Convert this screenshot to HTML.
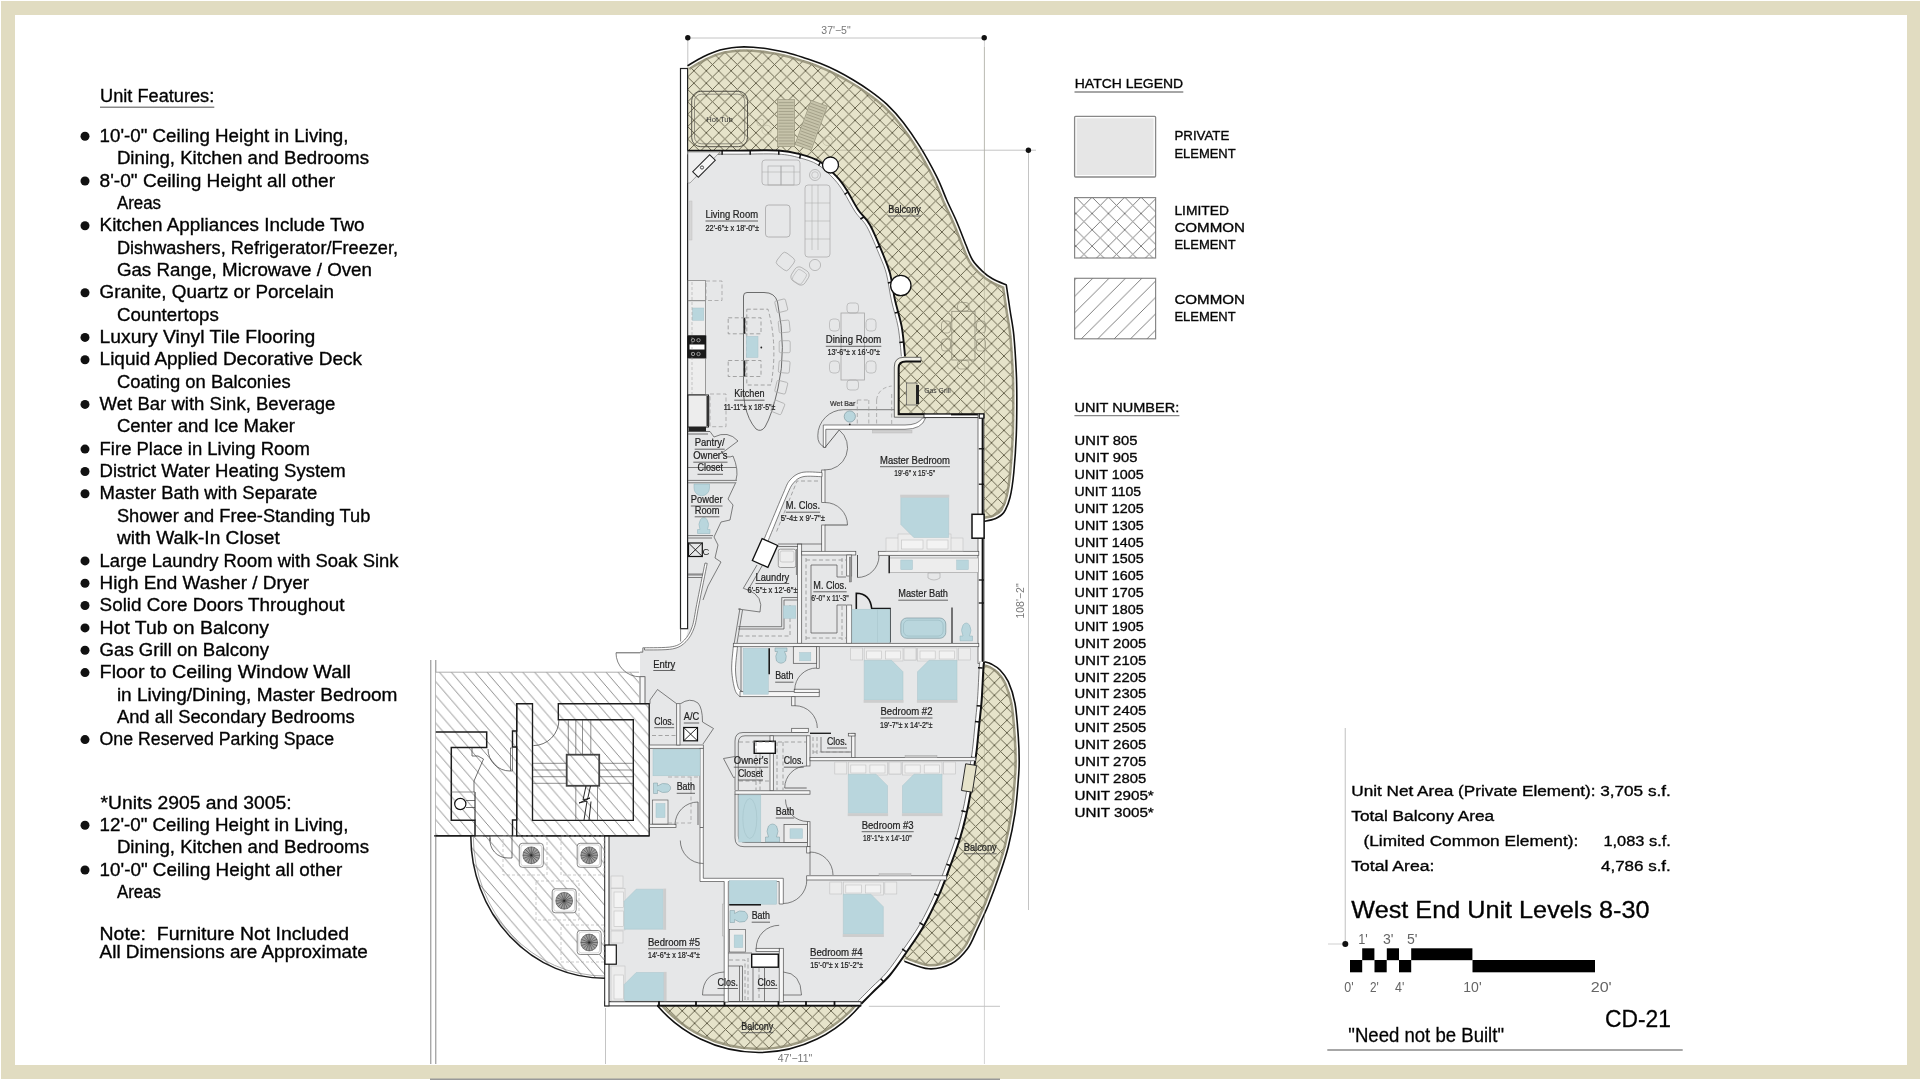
<!DOCTYPE html>
<html lang="en"><head><meta charset="utf-8"><title>West End Unit Levels 8-30 - CD-21</title>
<style>
html,body{margin:0;padding:0;background:#fff;}
body{width:1920px;height:1080px;overflow:hidden;}
svg{display:block;will-change:transform;font-family:'Liberation Sans', sans-serif;}
</style></head><body>
<svg width="1920" height="1080" viewBox="0 0 1920 1080">
<defs>
<pattern id="xh" width="12.4" height="12.4" patternUnits="userSpaceOnUse" patternTransform="translate(11.9 8.8)">
<path d="M0,0L12.4,12.4M12.4,0L0,12.4" stroke="#625e48" stroke-width="0.95" fill="none"/>
</pattern>
<pattern id="xh2" width="12.5" height="12.5" patternUnits="userSpaceOnUse" patternTransform="translate(994.4 682.8)">
<path d="M0,0L12.5,12.5M12.5,0L0,12.5" stroke="#625e48" stroke-width="0.95" fill="none"/>
</pattern>
<pattern id="xh3" width="12.4" height="12.4" patternUnits="userSpaceOnUse" patternTransform="translate(719.4 1010.9)">
<path d="M0,0L12.4,12.4M12.4,0L0,12.4" stroke="#625e48" stroke-width="0.95" fill="none"/>
</pattern>
<pattern id="xhl" width="16.3" height="16.3" patternUnits="userSpaceOnUse" patternTransform="translate(1092.1 197.2)">
<path d="M-1,-1L17.3,17.3M17.3,-1L-1,17.3" stroke="#707070" stroke-width="0.9" fill="none"/>
</pattern>
<pattern id="dh" width="11.9" height="13.8" patternUnits="userSpaceOnUse" patternTransform="translate(439.4 672.2)">
<path d="M-1.19,-1.38L13.09,15.18" stroke="#707070" stroke-width="0.8" fill="none"/>
</pattern>
<pattern id="dhl" width="16.4" height="16.4" patternUnits="userSpaceOnUse" patternTransform="translate(1092.8 261.8)">
<path d="M-1,17.4L17.4,-1" stroke="#707070" stroke-width="0.9" fill="none"/>
</pattern>
</defs>
<rect x="0" y="0" width="1920" height="1080" fill="#fff"/>
<path d="M1,1H1920V1079H1ZM15,15V1065H1907V15Z" fill="#e1dcc1" fill-rule="evenodd"/>
<line x1="430" y1="1079.3" x2="1000" y2="1079.3" stroke="#999" stroke-width="1.4"/>
<line x1="687.8" y1="38.0" x2="984.2" y2="38.0" stroke="#c4c4c4" stroke-width="1.0"/>
<line x1="687.8" y1="38.0" x2="687.8" y2="68.0" stroke="#c4c4c4" stroke-width="1.0"/>
<line x1="984.4" y1="38.0" x2="984.4" y2="1064.0" stroke="#d4d4d4" stroke-width="1.0"/>
<line x1="815.0" y1="150.2" x2="1036.0" y2="150.2" stroke="#c4c4c4" stroke-width="1.0"/>
<line x1="1028.5" y1="150.0" x2="1028.5" y2="910.0" stroke="#c4c4c4" stroke-width="1.0"/>
<line x1="868.8" y1="1006.3" x2="1000.0" y2="1006.3" stroke="#c4c4c4" stroke-width="1.0"/>
<line x1="605.5" y1="1008.0" x2="605.5" y2="1064.0" stroke="#c4c4c4" stroke-width="1.0"/>
<circle cx="687.8" cy="37.8" r="2.7" fill="#111" stroke="none" stroke-width="0"/>
<circle cx="984.2" cy="37.8" r="2.7" fill="#111" stroke="none" stroke-width="0"/>
<circle cx="1028.4" cy="150.2" r="2.7" fill="#111" stroke="none" stroke-width="0"/>
<text x="836.0" y="33.5" font-size="10.5" text-anchor="middle" fill="#777">37'−5"</text>
<text x="795.0" y="1062.3" font-size="10.5" text-anchor="middle" fill="#777">47'−11"</text>
<text transform="translate(1023.5 601) rotate(-90)" font-size="10.5" text-anchor="middle" fill="#777">108'−2"</text>
<line x1="430.8" y1="660.0" x2="430.8" y2="1064.0" stroke="#777" stroke-width="0.9"/>
<line x1="435.8" y1="660.0" x2="435.8" y2="1064.0" stroke="#777" stroke-width="0.9"/>
<clipPath id="cb1"><path d="M687.5,65.8 C690.1,64.3 697.9,59.3 703.3,56.7 C708.7,54.1 714.4,51.6 720.0,50.0 C725.6,48.4 731.2,47.7 736.7,47.2 C742.2,46.7 747.8,46.9 753.3,47.2 C758.8,47.5 764.4,48.3 770.0,49.2 C775.6,50.1 781.2,51.1 786.7,52.5 C792.2,53.9 797.8,55.7 803.3,57.5 C808.8,59.3 814.4,61.1 820.0,63.3 C825.6,65.5 831.2,68.0 836.7,70.8 C842.2,73.6 847.8,76.7 853.3,80.0 C858.8,83.3 864.4,86.8 870.0,90.8 C875.6,94.8 881.2,98.9 886.7,104.2 C892.2,109.5 897.8,115.4 903.3,122.5 C908.8,129.6 914.4,137.7 920.0,146.7 C925.6,155.7 932.2,167.8 936.7,176.7 C941.2,185.6 943.4,192.5 946.7,200.0 C950.0,207.5 953.5,214.2 956.7,221.7 C959.9,229.2 963.4,238.6 966.0,245.0 C968.6,251.4 969.8,255.6 972.5,260.0 C975.2,264.4 979.2,268.2 982.5,271.3 C985.8,274.4 988.5,276.5 992.5,278.8 C996.5,281.1 1004.0,284.0 1006.3,285.0 C1006.9,289.2 1008.8,301.7 1010.0,310.0 C1011.2,318.3 1012.8,324.6 1013.8,335.0 C1014.8,345.4 1015.8,362.1 1016.3,372.5 C1016.8,382.9 1016.8,387.1 1016.8,397.5 C1016.8,407.9 1016.8,422.5 1016.3,435.0 C1015.8,447.5 1014.8,462.1 1013.8,472.5 C1012.8,482.9 1011.7,490.8 1010.0,497.5 C1008.3,504.2 1006.3,508.9 1003.8,512.5 C1001.3,516.0 998.3,517.3 995.0,518.8 C991.7,520.3 985.8,520.9 984.0,521.3 L984,600 L800,600 L687.5,300 Z"/></clipPath>
<path d="M687.5,65.8 C690.1,64.3 697.9,59.3 703.3,56.7 C708.7,54.1 714.4,51.6 720.0,50.0 C725.6,48.4 731.2,47.7 736.7,47.2 C742.2,46.7 747.8,46.9 753.3,47.2 C758.8,47.5 764.4,48.3 770.0,49.2 C775.6,50.1 781.2,51.1 786.7,52.5 C792.2,53.9 797.8,55.7 803.3,57.5 C808.8,59.3 814.4,61.1 820.0,63.3 C825.6,65.5 831.2,68.0 836.7,70.8 C842.2,73.6 847.8,76.7 853.3,80.0 C858.8,83.3 864.4,86.8 870.0,90.8 C875.6,94.8 881.2,98.9 886.7,104.2 C892.2,109.5 897.8,115.4 903.3,122.5 C908.8,129.6 914.4,137.7 920.0,146.7 C925.6,155.7 932.2,167.8 936.7,176.7 C941.2,185.6 943.4,192.5 946.7,200.0 C950.0,207.5 953.5,214.2 956.7,221.7 C959.9,229.2 963.4,238.6 966.0,245.0 C968.6,251.4 969.8,255.6 972.5,260.0 C975.2,264.4 979.2,268.2 982.5,271.3 C985.8,274.4 988.5,276.5 992.5,278.8 C996.5,281.1 1004.0,284.0 1006.3,285.0 C1006.9,289.2 1008.8,301.7 1010.0,310.0 C1011.2,318.3 1012.8,324.6 1013.8,335.0 C1014.8,345.4 1015.8,362.1 1016.3,372.5 C1016.8,382.9 1016.8,387.1 1016.8,397.5 C1016.8,407.9 1016.8,422.5 1016.3,435.0 C1015.8,447.5 1014.8,462.1 1013.8,472.5 C1012.8,482.9 1011.7,490.8 1010.0,497.5 C1008.3,504.2 1006.3,508.9 1003.8,512.5 C1001.3,516.0 998.3,517.3 995.0,518.8 C991.7,520.3 985.8,520.9 984.0,521.3 L984,600 L800,600 L687.5,300 Z" fill="#e6e3ca" stroke="none" stroke-width="0"/>
<path d="M687.5,65.8 C690.1,64.3 697.9,59.3 703.3,56.7 C708.7,54.1 714.4,51.6 720.0,50.0 C725.6,48.4 731.2,47.7 736.7,47.2 C742.2,46.7 747.8,46.9 753.3,47.2 C758.8,47.5 764.4,48.3 770.0,49.2 C775.6,50.1 781.2,51.1 786.7,52.5 C792.2,53.9 797.8,55.7 803.3,57.5 C808.8,59.3 814.4,61.1 820.0,63.3 C825.6,65.5 831.2,68.0 836.7,70.8 C842.2,73.6 847.8,76.7 853.3,80.0 C858.8,83.3 864.4,86.8 870.0,90.8 C875.6,94.8 881.2,98.9 886.7,104.2 C892.2,109.5 897.8,115.4 903.3,122.5 C908.8,129.6 914.4,137.7 920.0,146.7 C925.6,155.7 932.2,167.8 936.7,176.7 C941.2,185.6 943.4,192.5 946.7,200.0 C950.0,207.5 953.5,214.2 956.7,221.7 C959.9,229.2 963.4,238.6 966.0,245.0 C968.6,251.4 969.8,255.6 972.5,260.0 C975.2,264.4 979.2,268.2 982.5,271.3 C985.8,274.4 988.5,276.5 992.5,278.8 C996.5,281.1 1004.0,284.0 1006.3,285.0 C1006.9,289.2 1008.8,301.7 1010.0,310.0 C1011.2,318.3 1012.8,324.6 1013.8,335.0 C1014.8,345.4 1015.8,362.1 1016.3,372.5 C1016.8,382.9 1016.8,387.1 1016.8,397.5 C1016.8,407.9 1016.8,422.5 1016.3,435.0 C1015.8,447.5 1014.8,462.1 1013.8,472.5 C1012.8,482.9 1011.7,490.8 1010.0,497.5 C1008.3,504.2 1006.3,508.9 1003.8,512.5 C1001.3,516.0 998.3,517.3 995.0,518.8 C991.7,520.3 985.8,520.9 984.0,521.3 L984,600 L800,600 L687.5,300 Z" fill="url(#xh)" stroke="none" stroke-width="0"/>
<g clip-path="url(#cb1)">
<path d="M687.5,65.8 C690.1,64.3 697.9,59.3 703.3,56.7 C708.7,54.1 714.4,51.6 720.0,50.0 C725.6,48.4 731.2,47.7 736.7,47.2 C742.2,46.7 747.8,46.9 753.3,47.2 C758.8,47.5 764.4,48.3 770.0,49.2 C775.6,50.1 781.2,51.1 786.7,52.5 C792.2,53.9 797.8,55.7 803.3,57.5 C808.8,59.3 814.4,61.1 820.0,63.3 C825.6,65.5 831.2,68.0 836.7,70.8 C842.2,73.6 847.8,76.7 853.3,80.0 C858.8,83.3 864.4,86.8 870.0,90.8 C875.6,94.8 881.2,98.9 886.7,104.2 C892.2,109.5 897.8,115.4 903.3,122.5 C908.8,129.6 914.4,137.7 920.0,146.7 C925.6,155.7 932.2,167.8 936.7,176.7 C941.2,185.6 943.4,192.5 946.7,200.0 C950.0,207.5 953.5,214.2 956.7,221.7 C959.9,229.2 963.4,238.6 966.0,245.0 C968.6,251.4 969.8,255.6 972.5,260.0 C975.2,264.4 979.2,268.2 982.5,271.3 C985.8,274.4 988.5,276.5 992.5,278.8 C996.5,281.1 1004.0,284.0 1006.3,285.0 C1006.9,289.2 1008.8,301.7 1010.0,310.0 C1011.2,318.3 1012.8,324.6 1013.8,335.0 C1014.8,345.4 1015.8,362.1 1016.3,372.5 C1016.8,382.9 1016.8,387.1 1016.8,397.5 C1016.8,407.9 1016.8,422.5 1016.3,435.0 C1015.8,447.5 1014.8,462.1 1013.8,472.5 C1012.8,482.9 1011.7,490.8 1010.0,497.5 C1008.3,504.2 1006.3,508.9 1003.8,512.5 C1001.3,516.0 998.3,517.3 995.0,518.8 C991.7,520.3 985.8,520.9 984.0,521.3 " fill="none" stroke="#8d8a72" stroke-width="9.6" opacity="0.8"/>
<path d="M687.5,65.8 C690.1,64.3 697.9,59.3 703.3,56.7 C708.7,54.1 714.4,51.6 720.0,50.0 C725.6,48.4 731.2,47.7 736.7,47.2 C742.2,46.7 747.8,46.9 753.3,47.2 C758.8,47.5 764.4,48.3 770.0,49.2 C775.6,50.1 781.2,51.1 786.7,52.5 C792.2,53.9 797.8,55.7 803.3,57.5 C808.8,59.3 814.4,61.1 820.0,63.3 C825.6,65.5 831.2,68.0 836.7,70.8 C842.2,73.6 847.8,76.7 853.3,80.0 C858.8,83.3 864.4,86.8 870.0,90.8 C875.6,94.8 881.2,98.9 886.7,104.2 C892.2,109.5 897.8,115.4 903.3,122.5 C908.8,129.6 914.4,137.7 920.0,146.7 C925.6,155.7 932.2,167.8 936.7,176.7 C941.2,185.6 943.4,192.5 946.7,200.0 C950.0,207.5 953.5,214.2 956.7,221.7 C959.9,229.2 963.4,238.6 966.0,245.0 C968.6,251.4 969.8,255.6 972.5,260.0 C975.2,264.4 979.2,268.2 982.5,271.3 C985.8,274.4 988.5,276.5 992.5,278.8 C996.5,281.1 1004.0,284.0 1006.3,285.0 C1006.9,289.2 1008.8,301.7 1010.0,310.0 C1011.2,318.3 1012.8,324.6 1013.8,335.0 C1014.8,345.4 1015.8,362.1 1016.3,372.5 C1016.8,382.9 1016.8,387.1 1016.8,397.5 C1016.8,407.9 1016.8,422.5 1016.3,435.0 C1015.8,447.5 1014.8,462.1 1013.8,472.5 C1012.8,482.9 1011.7,490.8 1010.0,497.5 C1008.3,504.2 1006.3,508.9 1003.8,512.5 C1001.3,516.0 998.3,517.3 995.0,518.8 C991.7,520.3 985.8,520.9 984.0,521.3 " fill="none" stroke="#fdfcf7" stroke-width="4.6"/>
</g>
<path d="M687.5,65.8 C690.1,64.3 697.9,59.3 703.3,56.7 C708.7,54.1 714.4,51.6 720.0,50.0 C725.6,48.4 731.2,47.7 736.7,47.2 C742.2,46.7 747.8,46.9 753.3,47.2 C758.8,47.5 764.4,48.3 770.0,49.2 C775.6,50.1 781.2,51.1 786.7,52.5 C792.2,53.9 797.8,55.7 803.3,57.5 C808.8,59.3 814.4,61.1 820.0,63.3 C825.6,65.5 831.2,68.0 836.7,70.8 C842.2,73.6 847.8,76.7 853.3,80.0 C858.8,83.3 864.4,86.8 870.0,90.8 C875.6,94.8 881.2,98.9 886.7,104.2 C892.2,109.5 897.8,115.4 903.3,122.5 C908.8,129.6 914.4,137.7 920.0,146.7 C925.6,155.7 932.2,167.8 936.7,176.7 C941.2,185.6 943.4,192.5 946.7,200.0 C950.0,207.5 953.5,214.2 956.7,221.7 C959.9,229.2 963.4,238.6 966.0,245.0 C968.6,251.4 969.8,255.6 972.5,260.0 C975.2,264.4 979.2,268.2 982.5,271.3 C985.8,274.4 988.5,276.5 992.5,278.8 C996.5,281.1 1004.0,284.0 1006.3,285.0 C1006.9,289.2 1008.8,301.7 1010.0,310.0 C1011.2,318.3 1012.8,324.6 1013.8,335.0 C1014.8,345.4 1015.8,362.1 1016.3,372.5 C1016.8,382.9 1016.8,387.1 1016.8,397.5 C1016.8,407.9 1016.8,422.5 1016.3,435.0 C1015.8,447.5 1014.8,462.1 1013.8,472.5 C1012.8,482.9 1011.7,490.8 1010.0,497.5 C1008.3,504.2 1006.3,508.9 1003.8,512.5 C1001.3,516.0 998.3,517.3 995.0,518.8 C991.7,520.3 985.8,520.9 984.0,521.3 " fill="none" stroke="#111" stroke-width="1.6"/>
<clipPath id="cb2"><path d="M984.2,661.7 C985.5,662.1 989.1,662.8 991.7,664.2 C994.3,665.6 997.2,667.1 1000.0,670.0 C1002.8,672.9 1005.8,676.2 1008.3,681.7 C1010.8,687.2 1013.3,694.1 1015.0,703.3 C1016.7,712.5 1017.6,727.0 1018.3,736.7 C1019.0,746.4 1019.2,754.5 1019.2,761.7 C1019.2,768.9 1019.0,771.4 1018.3,780.0 C1017.6,788.6 1016.7,802.2 1015.0,813.3 C1013.3,824.4 1010.8,836.7 1008.3,846.7 C1005.8,856.7 1003.3,863.6 1000.0,873.3 C996.7,883.0 992.0,895.8 988.3,905.0 C984.5,914.2 981.0,921.5 977.5,928.8 C974.0,936.1 971.9,943.0 967.5,948.8 C963.1,954.6 957.8,960.5 951.3,963.8 C944.8,967.1 936.6,969.2 928.8,968.8 C921.0,968.4 908.5,962.5 904.4,961.3 L880,940 L940,700 Z"/></clipPath>
<path d="M984.2,661.7 C985.5,662.1 989.1,662.8 991.7,664.2 C994.3,665.6 997.2,667.1 1000.0,670.0 C1002.8,672.9 1005.8,676.2 1008.3,681.7 C1010.8,687.2 1013.3,694.1 1015.0,703.3 C1016.7,712.5 1017.6,727.0 1018.3,736.7 C1019.0,746.4 1019.2,754.5 1019.2,761.7 C1019.2,768.9 1019.0,771.4 1018.3,780.0 C1017.6,788.6 1016.7,802.2 1015.0,813.3 C1013.3,824.4 1010.8,836.7 1008.3,846.7 C1005.8,856.7 1003.3,863.6 1000.0,873.3 C996.7,883.0 992.0,895.8 988.3,905.0 C984.5,914.2 981.0,921.5 977.5,928.8 C974.0,936.1 971.9,943.0 967.5,948.8 C963.1,954.6 957.8,960.5 951.3,963.8 C944.8,967.1 936.6,969.2 928.8,968.8 C921.0,968.4 908.5,962.5 904.4,961.3 L880,940 L940,700 Z" fill="#e6e3ca" stroke="none" stroke-width="0"/>
<path d="M984.2,661.7 C985.5,662.1 989.1,662.8 991.7,664.2 C994.3,665.6 997.2,667.1 1000.0,670.0 C1002.8,672.9 1005.8,676.2 1008.3,681.7 C1010.8,687.2 1013.3,694.1 1015.0,703.3 C1016.7,712.5 1017.6,727.0 1018.3,736.7 C1019.0,746.4 1019.2,754.5 1019.2,761.7 C1019.2,768.9 1019.0,771.4 1018.3,780.0 C1017.6,788.6 1016.7,802.2 1015.0,813.3 C1013.3,824.4 1010.8,836.7 1008.3,846.7 C1005.8,856.7 1003.3,863.6 1000.0,873.3 C996.7,883.0 992.0,895.8 988.3,905.0 C984.5,914.2 981.0,921.5 977.5,928.8 C974.0,936.1 971.9,943.0 967.5,948.8 C963.1,954.6 957.8,960.5 951.3,963.8 C944.8,967.1 936.6,969.2 928.8,968.8 C921.0,968.4 908.5,962.5 904.4,961.3 L880,940 L940,700 Z" fill="url(#xh2)" stroke="none" stroke-width="0"/>
<g clip-path="url(#cb2)">
<path d="M984.2,661.7 C985.5,662.1 989.1,662.8 991.7,664.2 C994.3,665.6 997.2,667.1 1000.0,670.0 C1002.8,672.9 1005.8,676.2 1008.3,681.7 C1010.8,687.2 1013.3,694.1 1015.0,703.3 C1016.7,712.5 1017.6,727.0 1018.3,736.7 C1019.0,746.4 1019.2,754.5 1019.2,761.7 C1019.2,768.9 1019.0,771.4 1018.3,780.0 C1017.6,788.6 1016.7,802.2 1015.0,813.3 C1013.3,824.4 1010.8,836.7 1008.3,846.7 C1005.8,856.7 1003.3,863.6 1000.0,873.3 C996.7,883.0 992.0,895.8 988.3,905.0 C984.5,914.2 981.0,921.5 977.5,928.8 C974.0,936.1 971.9,943.0 967.5,948.8 C963.1,954.6 957.8,960.5 951.3,963.8 C944.8,967.1 936.6,969.2 928.8,968.8 C921.0,968.4 908.5,962.5 904.4,961.3 " fill="none" stroke="#8d8a72" stroke-width="9.6" opacity="0.8"/>
<path d="M984.2,661.7 C985.5,662.1 989.1,662.8 991.7,664.2 C994.3,665.6 997.2,667.1 1000.0,670.0 C1002.8,672.9 1005.8,676.2 1008.3,681.7 C1010.8,687.2 1013.3,694.1 1015.0,703.3 C1016.7,712.5 1017.6,727.0 1018.3,736.7 C1019.0,746.4 1019.2,754.5 1019.2,761.7 C1019.2,768.9 1019.0,771.4 1018.3,780.0 C1017.6,788.6 1016.7,802.2 1015.0,813.3 C1013.3,824.4 1010.8,836.7 1008.3,846.7 C1005.8,856.7 1003.3,863.6 1000.0,873.3 C996.7,883.0 992.0,895.8 988.3,905.0 C984.5,914.2 981.0,921.5 977.5,928.8 C974.0,936.1 971.9,943.0 967.5,948.8 C963.1,954.6 957.8,960.5 951.3,963.8 C944.8,967.1 936.6,969.2 928.8,968.8 C921.0,968.4 908.5,962.5 904.4,961.3 " fill="none" stroke="#fdfcf7" stroke-width="4.6"/>
</g>
<path d="M984.2,661.7 C985.5,662.1 989.1,662.8 991.7,664.2 C994.3,665.6 997.2,667.1 1000.0,670.0 C1002.8,672.9 1005.8,676.2 1008.3,681.7 C1010.8,687.2 1013.3,694.1 1015.0,703.3 C1016.7,712.5 1017.6,727.0 1018.3,736.7 C1019.0,746.4 1019.2,754.5 1019.2,761.7 C1019.2,768.9 1019.0,771.4 1018.3,780.0 C1017.6,788.6 1016.7,802.2 1015.0,813.3 C1013.3,824.4 1010.8,836.7 1008.3,846.7 C1005.8,856.7 1003.3,863.6 1000.0,873.3 C996.7,883.0 992.0,895.8 988.3,905.0 C984.5,914.2 981.0,921.5 977.5,928.8 C974.0,936.1 971.9,943.0 967.5,948.8 C963.1,954.6 957.8,960.5 951.3,963.8 C944.8,967.1 936.6,969.2 928.8,968.8 C921.0,968.4 908.5,962.5 904.4,961.3 " fill="none" stroke="#111" stroke-width="1.6"/>
<clipPath id="cb3"><path d="M657.5,1005.8 A133.1,133.1 0 0 0 860,1005.8 Z"/></clipPath>
<path d="M657.5,1005.8 A133.1,133.1 0 0 0 860,1005.8 Z" fill="#e6e3ca" stroke="none" stroke-width="0"/>
<path d="M657.5,1005.8 A133.1,133.1 0 0 0 860,1005.8 Z" fill="url(#xh3)" stroke="none" stroke-width="0"/>
<g clip-path="url(#cb3)">
<path d="M657.5,1005.8 A133.1,133.1 0 0 0 860,1005.8" fill="none" stroke="#8d8a72" stroke-width="9.6" opacity="0.8"/>
<path d="M657.5,1005.8 A133.1,133.1 0 0 0 860,1005.8" fill="none" stroke="#fdfcf7" stroke-width="4.6"/>
</g>
<path d="M657.5,1005.8 A133.1,133.1 0 0 0 860,1005.8" fill="none" stroke="#111" stroke-width="1.6"/>
<line x1="984.4" y1="47.0" x2="984.4" y2="521.0" stroke="#8a876f" stroke-width="0.9" opacity="0.35"/>
<line x1="984.4" y1="662.0" x2="984.4" y2="950.0" stroke="#8a876f" stroke-width="0.9" opacity="0.35"/>
<line x1="815.0" y1="150.2" x2="925.0" y2="150.2" stroke="#8a876f" stroke-width="0.9" opacity="0.45"/>
<rect x="691.7" y="91.3" width="55.8" height="55.4" fill="none" stroke="#55534a" stroke-width="1.0" rx="9"/>
<rect x="694.5" y="94.2" width="50.2" height="49.6" fill="none" stroke="#6b6960" stroke-width="0.7" rx="7"/>
<text x="719.5" y="121.6" font-size="7.6" text-anchor="middle" fill="#333">Hot Tub</text>
<rect x="777.5" y="99.7" width="17.2" height="47.0" fill="#c6c3aa" stroke="#8f8c76" stroke-width="0.6"/>
<line x1="778.5" y1="102.6" x2="793.7" y2="102.6" stroke="#9a9780" stroke-width="0.7"/>
<line x1="778.5" y1="105.6" x2="793.7" y2="105.6" stroke="#9a9780" stroke-width="0.7"/>
<line x1="778.5" y1="108.5" x2="793.7" y2="108.5" stroke="#9a9780" stroke-width="0.7"/>
<line x1="778.5" y1="111.5" x2="793.7" y2="111.5" stroke="#9a9780" stroke-width="0.7"/>
<line x1="778.5" y1="114.4" x2="793.7" y2="114.4" stroke="#9a9780" stroke-width="0.7"/>
<line x1="778.5" y1="117.3" x2="793.7" y2="117.3" stroke="#9a9780" stroke-width="0.7"/>
<line x1="778.5" y1="120.3" x2="793.7" y2="120.3" stroke="#9a9780" stroke-width="0.7"/>
<line x1="778.5" y1="123.2" x2="793.7" y2="123.2" stroke="#9a9780" stroke-width="0.7"/>
<line x1="778.5" y1="126.2" x2="793.7" y2="126.2" stroke="#9a9780" stroke-width="0.7"/>
<line x1="778.5" y1="129.1" x2="793.7" y2="129.1" stroke="#9a9780" stroke-width="0.7"/>
<line x1="778.5" y1="132.0" x2="793.7" y2="132.0" stroke="#9a9780" stroke-width="0.7"/>
<line x1="778.5" y1="135.0" x2="793.7" y2="135.0" stroke="#9a9780" stroke-width="0.7"/>
<line x1="778.5" y1="137.9" x2="793.7" y2="137.9" stroke="#9a9780" stroke-width="0.7"/>
<line x1="778.5" y1="140.9" x2="793.7" y2="140.9" stroke="#9a9780" stroke-width="0.7"/>
<line x1="778.5" y1="143.8" x2="793.7" y2="143.8" stroke="#9a9780" stroke-width="0.7"/>
<g transform="translate(33 3.5) rotate(20 786 100)">
<rect x="777.5" y="99.7" width="17.2" height="47.0" fill="#c6c3aa" stroke="#8f8c76" stroke-width="0.6"/>
<line x1="778.5" y1="102.6" x2="793.7" y2="102.6" stroke="#9a9780" stroke-width="0.7"/>
<line x1="778.5" y1="105.6" x2="793.7" y2="105.6" stroke="#9a9780" stroke-width="0.7"/>
<line x1="778.5" y1="108.5" x2="793.7" y2="108.5" stroke="#9a9780" stroke-width="0.7"/>
<line x1="778.5" y1="111.5" x2="793.7" y2="111.5" stroke="#9a9780" stroke-width="0.7"/>
<line x1="778.5" y1="114.4" x2="793.7" y2="114.4" stroke="#9a9780" stroke-width="0.7"/>
<line x1="778.5" y1="117.3" x2="793.7" y2="117.3" stroke="#9a9780" stroke-width="0.7"/>
<line x1="778.5" y1="120.3" x2="793.7" y2="120.3" stroke="#9a9780" stroke-width="0.7"/>
<line x1="778.5" y1="123.2" x2="793.7" y2="123.2" stroke="#9a9780" stroke-width="0.7"/>
<line x1="778.5" y1="126.2" x2="793.7" y2="126.2" stroke="#9a9780" stroke-width="0.7"/>
<line x1="778.5" y1="129.1" x2="793.7" y2="129.1" stroke="#9a9780" stroke-width="0.7"/>
<line x1="778.5" y1="132.0" x2="793.7" y2="132.0" stroke="#9a9780" stroke-width="0.7"/>
<line x1="778.5" y1="135.0" x2="793.7" y2="135.0" stroke="#9a9780" stroke-width="0.7"/>
<line x1="778.5" y1="137.9" x2="793.7" y2="137.9" stroke="#9a9780" stroke-width="0.7"/>
<line x1="778.5" y1="140.9" x2="793.7" y2="140.9" stroke="#9a9780" stroke-width="0.7"/>
<line x1="778.5" y1="143.8" x2="793.7" y2="143.8" stroke="#9a9780" stroke-width="0.7"/>
</g>
<circle cx="766.7" cy="130.0" r="4.8" fill="none" stroke="#b5b29b" stroke-width="0.6"/>
<circle cx="760.5" cy="122.5" r="3.6" fill="none" stroke="#b5b29b" stroke-width="0.6"/>
<circle cx="827.5" cy="140.8" r="4.8" fill="none" stroke="#b5b29b" stroke-width="0.6"/>
<rect x="951.8" y="311.3" width="23.2" height="48.7" fill="none" stroke="#8f8c78" stroke-width="0.8"/>
<rect x="941.5" y="321.0" width="9.0" height="12.0" fill="none" stroke="#8f8c78" stroke-width="0.7" rx="3"/>
<rect x="941.5" y="339.0" width="9.0" height="12.0" fill="none" stroke="#8f8c78" stroke-width="0.7" rx="3"/>
<rect x="976.5" y="321.0" width="9.0" height="12.0" fill="none" stroke="#8f8c78" stroke-width="0.7" rx="3"/>
<rect x="976.5" y="339.0" width="9.0" height="12.0" fill="none" stroke="#8f8c78" stroke-width="0.7" rx="3"/>
<rect x="957.5" y="302.5" width="11.5" height="8.5" fill="none" stroke="#8f8c78" stroke-width="0.7" rx="3"/>
<rect x="957.5" y="360.5" width="11.5" height="8.5" fill="none" stroke="#8f8c78" stroke-width="0.7" rx="3"/>
<path d="M435.8,672.2 H639.2 V703.7 H649.2 V835.8 H605 V978.3 A134,142.5 0 0 1 470.8,835.8 H435.8 Z" fill="#fff" stroke="none" stroke-width="0"/>
<path d="M435.8,672.2 H639.2 V703.7 H649.2 V835.8 H605 V978.3 A134,142.5 0 0 1 470.8,835.8 H435.8 Z" fill="url(#dh)" stroke="none" stroke-width="0"/>
<line x1="435.8" y1="672.2" x2="639.2" y2="672.2" stroke="#999" stroke-width="0.8"/>
<path d="M687.5,150.3 L778.3,150.5 C781.9,151.1 793.0,152.3 800.0,154.2 C807.0,156.1 813.9,157.9 820.0,161.7 C826.1,165.4 832.2,172.0 836.7,176.7 C841.2,181.4 843.1,184.4 846.7,190.0 C850.3,195.6 854.4,204.2 858.3,210.0 C862.2,215.8 865.8,217.5 870.0,225.0 C874.2,232.5 880.0,246.9 883.3,255.0 C886.6,263.1 888.0,265.8 890.0,273.3 C892.0,280.8 893.0,291.1 895.0,300.0 C897.0,308.9 900.0,317.4 901.7,326.7 C903.4,336.0 904.5,351.1 905.0,356.0 L900,358 Q896,360 896,368 L896,414 L983.8,414 L984.2,663 C984.1,663.0 983.8,661.7 983.4,668.0 C983.0,674.3 982.4,690.5 981.7,700.0 C981.0,709.5 980.0,716.7 979.2,725.0 C978.4,733.3 977.5,743.0 976.7,750.0 C975.9,757.0 975.2,759.8 974.2,766.7 C973.2,773.7 972.2,783.4 970.8,791.7 C969.4,800.0 967.7,808.7 965.8,816.7 C963.9,824.8 962.1,831.7 959.5,840.0 C956.9,848.3 953.5,857.2 950.0,866.7 C946.5,876.2 942.8,886.7 938.3,896.7 C933.8,906.7 928.6,917.4 923.3,926.7 C918.0,936.0 911.8,944.5 906.3,952.5 C900.8,960.5 895.2,968.8 890.0,975.0 C884.8,981.2 879.8,985.2 875.0,990.0 C870.2,994.8 863.6,1001.5 861.3,1003.8 L605,1005.8 L605,835 L649.5,835 L649.5,703.7 L640,703.7 L640,652 L644.4,647.8 C649.0,647.6 665.5,648.0 672.2,646.7 C678.9,645.4 681.8,643.0 684.4,640.0 C687.0,637.0 687.4,630.8 688.0,629.0 Z" fill="#e6e7e8" stroke="none" stroke-width="0"/>
<rect x="680.5" y="68.5" width="7.1" height="560.2" fill="#fff" stroke="#222" stroke-width="1.2"/>
<path d="M687.5,150.6 L740.0,150.6 C746.4,150.6 768.3,149.9 778.3,150.5 C788.3,151.1 793.0,152.3 800.0,154.2 C807.0,156.1 813.9,157.9 820.0,161.7 C826.1,165.4 832.2,172.0 836.7,176.7 C841.2,181.4 843.1,184.4 846.7,190.0 C850.3,195.6 854.4,204.2 858.3,210.0 C862.2,215.8 865.8,217.5 870.0,225.0 C874.2,232.5 880.0,246.9 883.3,255.0 C886.6,263.1 888.0,265.8 890.0,273.3 C892.0,280.8 893.0,291.1 895.0,300.0 C897.0,308.9 900.0,317.4 901.7,326.7 C903.4,336.0 904.5,351.1 905.0,356.0 L901.4,356.4 C900.9,351.6 899.8,336.6 898.2,327.3 C896.5,318.1 893.4,309.6 891.5,300.8 C889.5,291.9 888.4,281.6 886.5,274.2 C884.6,266.8 883.3,264.3 880.0,256.4 C876.7,248.5 871.0,234.1 866.9,226.7 C862.7,219.4 859.2,217.8 855.3,212.0 C851.4,206.2 847.2,197.4 843.7,192.0 C840.1,186.5 838.3,183.7 834.1,179.2 C829.8,174.6 824.0,168.4 818.1,164.8 C812.3,161.2 805.7,159.5 799.1,157.7 C792.4,155.9 787.9,154.7 778.1,154.1 C768.2,153.5 746.4,154.2 740.0,154.2 L687.5,154.2 Z" fill="#fff" stroke="none" stroke-width="0"/>
<path d="M687.5,150.6 L740.0,150.6 C746.4,150.6 768.3,149.9 778.3,150.5 C788.3,151.1 793.0,152.3 800.0,154.2 C807.0,156.1 813.9,157.9 820.0,161.7 C826.1,165.4 832.2,172.0 836.7,176.7 C841.2,181.4 843.1,184.4 846.7,190.0 C850.3,195.6 854.4,204.2 858.3,210.0 C862.2,215.8 865.8,217.5 870.0,225.0 C874.2,232.5 880.0,246.9 883.3,255.0 C886.6,263.1 888.0,265.8 890.0,273.3 C892.0,280.8 893.0,291.1 895.0,300.0 C897.0,308.9 900.0,317.4 901.7,326.7 C903.4,336.0 904.5,351.1 905.0,356.0 " fill="none" stroke="#111" stroke-width="1.9"/>
<path d="M687.5,154.2 L740.0,154.2 C746.4,154.2 768.2,153.5 778.1,154.1 C787.9,154.7 792.4,155.9 799.1,157.7 C805.7,159.5 812.3,161.2 818.1,164.8 C824.0,168.4 829.8,174.6 834.1,179.2 C838.3,183.7 840.1,186.5 843.7,192.0 C847.2,197.4 851.4,206.2 855.3,212.0 C859.2,217.8 862.7,219.4 866.9,226.7 C871.0,234.1 876.7,248.5 880.0,256.4 C883.3,264.3 884.6,266.8 886.5,274.2 C888.4,281.6 889.5,291.9 891.5,300.8 C893.4,309.6 896.5,318.1 898.2,327.3 C899.8,336.6 900.9,351.6 901.4,356.4 " fill="none" stroke="#555" stroke-width="0.7"/>
<rect x="688.0" y="151.5" width="32.0" height="2.7" fill="#e6e3ca" stroke="#555" stroke-width="0.5"/>
<line x1="722.1" y1="150.6" x2="722.1" y2="154.8" stroke="#111" stroke-width="1.5"/>
<line x1="750.2" y1="150.6" x2="750.2" y2="154.8" stroke="#111" stroke-width="1.5"/>
<line x1="778.8" y1="150.6" x2="778.8" y2="154.8" stroke="#111" stroke-width="1.5"/>
<line x1="800.4" y1="154.4" x2="799.7" y2="158.5" stroke="#111" stroke-width="1.5"/>
<line x1="820.4" y1="162.0" x2="818.6" y2="165.8" stroke="#111" stroke-width="1.5"/>
<line x1="848.0" y1="192.0" x2="844.6" y2="194.4" stroke="#111" stroke-width="1.5"/>
<line x1="864.0" y1="217.0" x2="860.3" y2="219.0" stroke="#111" stroke-width="1.5"/>
<line x1="880.0" y1="246.0" x2="876.1" y2="247.6" stroke="#111" stroke-width="1.5"/>
<line x1="892.0" y1="282.0" x2="887.9" y2="282.9" stroke="#111" stroke-width="1.5"/>
<line x1="899.0" y1="312.0" x2="894.9" y2="312.9" stroke="#111" stroke-width="1.5"/>
<line x1="903.5" y1="342.0" x2="899.3" y2="342.6" stroke="#111" stroke-width="1.5"/>
<circle cx="830.5" cy="165.0" r="8.0" fill="#fff" stroke="#111" stroke-width="1.3"/>
<circle cx="900.8" cy="285.5" r="10.2" fill="#fff" stroke="#111" stroke-width="1.3"/>
<path d="M921,357.3 H904 Q894.3,357.3 894.3,367 V417.2 H924.5 V413.6 H899 V368 Q899,361.5 906,361.5 H921 Z" fill="#f3f2ea" stroke="#333" stroke-width="0.7"/>
<path d="M921,361.5 H906 Q898.6,361.5 898.6,368 V414.2 H924.5" fill="none" stroke="#111" stroke-width="1.9"/>
<rect x="906.5" y="383.0" width="10.5" height="22.0" fill="#d5d2ba" stroke="#555" stroke-width="0.7"/>
<rect x="916.0" y="385.0" width="3.0" height="19.0" fill="#222" stroke="none" stroke-width="0"/>
<text x="924.2" y="392.5" font-size="7.2" textLength="26.6" lengthAdjust="spacingAndGlyphs" fill="#333">Gas Grill</text>
<rect x="924.0" y="413.9" width="60.0" height="3.7" fill="#fff" stroke="#222" stroke-width="0.9"/>
<line x1="951.0" y1="414.4" x2="980.0" y2="414.4" stroke="#111" stroke-width="2.0"/>
<line x1="924.0" y1="414.0" x2="951.0" y2="414.0" stroke="#222" stroke-width="1.0"/>
<rect x="978.0" y="413.9" width="5.9" height="249.6" fill="#fff" stroke="#444" stroke-width="0.7"/>
<line x1="982.6" y1="414.0" x2="982.6" y2="663.5" stroke="#111" stroke-width="1.9"/>
<rect x="979.2" y="414.0" width="4.6" height="4.2" fill="#fff" stroke="#111" stroke-width="1.1"/>
<line x1="978.8" y1="448.8" x2="984.0" y2="448.8" stroke="#111" stroke-width="1.3"/>
<line x1="978.8" y1="484.2" x2="984.0" y2="484.2" stroke="#111" stroke-width="1.3"/>
<line x1="978.8" y1="580.0" x2="984.0" y2="580.0" stroke="#111" stroke-width="1.3"/>
<line x1="978.8" y1="603.0" x2="984.0" y2="603.0" stroke="#111" stroke-width="1.3"/>
<rect x="972.0" y="514.3" width="12.1" height="23.9" fill="#fff" stroke="#111" stroke-width="1.5"/>
<path d="M984.2,662.0 C984.1,663.0 983.8,661.7 983.4,668.0 C983.0,674.3 982.4,690.5 981.7,700.0 C981.0,709.5 980.0,716.7 979.2,725.0 C978.4,733.3 977.5,743.0 976.7,750.0 C975.9,757.0 975.2,759.8 974.2,766.7 C973.2,773.7 972.2,783.4 970.8,791.7 C969.4,800.0 967.7,808.7 965.8,816.7 C963.9,824.8 962.1,831.7 959.5,840.0 C956.9,848.3 953.5,857.2 950.0,866.7 C946.5,876.2 942.8,886.7 938.3,896.7 C933.8,906.7 928.6,917.4 923.3,926.7 C918.0,936.0 911.8,944.5 906.3,952.5 C900.8,960.5 895.2,968.8 890.0,975.0 C884.8,981.2 879.8,985.2 875.0,990.0 C870.2,994.8 863.6,1001.5 861.3,1003.8 L858.3,1000.8 C860.6,998.5 867.3,991.8 872.0,987.0 C876.8,982.3 881.6,978.5 886.8,972.3 C891.9,966.2 897.4,958.1 902.8,950.1 C908.3,942.2 914.4,933.8 919.7,924.6 C924.9,915.4 930.1,904.9 934.5,895.0 C938.9,885.1 942.6,874.6 946.1,865.2 C949.6,855.9 952.9,847.0 955.5,838.7 C958.1,830.5 959.8,823.7 961.7,815.7 C963.6,807.8 965.3,799.3 966.7,791.0 C968.0,782.7 969.1,773.0 970.0,766.1 C971.0,759.2 971.7,756.4 972.5,749.5 C973.4,742.6 974.2,732.9 975.0,724.6 C975.9,716.3 976.8,709.2 977.5,699.7 C978.2,690.2 978.8,674.1 979.2,667.7 C979.6,661.3 979.9,662.5 980.0,661.4 Z" fill="#fff" stroke="none" stroke-width="0"/>
<path d="M984.2,662.0 C984.1,663.0 983.8,661.7 983.4,668.0 C983.0,674.3 982.4,690.5 981.7,700.0 C981.0,709.5 980.0,716.7 979.2,725.0 C978.4,733.3 977.5,743.0 976.7,750.0 C975.9,757.0 975.2,759.8 974.2,766.7 C973.2,773.7 972.2,783.4 970.8,791.7 C969.4,800.0 967.7,808.7 965.8,816.7 C963.9,824.8 962.1,831.7 959.5,840.0 C956.9,848.3 953.5,857.2 950.0,866.7 C946.5,876.2 942.8,886.7 938.3,896.7 C933.8,906.7 928.6,917.4 923.3,926.7 C918.0,936.0 911.8,944.5 906.3,952.5 C900.8,960.5 895.2,968.8 890.0,975.0 C884.8,981.2 879.8,985.2 875.0,990.0 C870.2,994.8 863.6,1001.5 861.3,1003.8 " fill="none" stroke="#111" stroke-width="2.0"/>
<path d="M980.0,661.4 C979.9,662.5 979.6,661.3 979.2,667.7 C978.8,674.1 978.2,690.2 977.5,699.7 C976.8,709.2 975.9,716.3 975.0,724.6 C974.2,732.9 973.4,742.6 972.5,749.5 C971.7,756.4 971.0,759.2 970.0,766.1 C969.1,773.0 968.0,782.7 966.7,791.0 C965.3,799.3 963.6,807.8 961.7,815.7 C959.8,823.7 958.1,830.5 955.5,838.7 C952.9,847.0 949.6,855.9 946.1,865.2 C942.6,874.6 938.9,885.1 934.5,895.0 C930.1,904.9 924.9,915.4 919.7,924.6 C914.4,933.8 908.3,942.2 902.8,950.1 C897.4,958.1 891.9,966.2 886.8,972.3 C881.6,978.5 876.8,982.3 872.0,987.0 C867.3,991.8 860.6,998.5 858.3,1000.8 " fill="none" stroke="#444" stroke-width="0.7"/>
<line x1="982.6" y1="668.0" x2="978.0" y2="667.8" stroke="#111" stroke-width="1.6"/>
<line x1="981.3" y1="706.0" x2="976.7" y2="705.7" stroke="#111" stroke-width="1.6"/>
<line x1="979.6" y1="722.0" x2="975.0" y2="721.5" stroke="#111" stroke-width="1.6"/>
<line x1="975.5" y1="758.0" x2="970.9" y2="757.4" stroke="#111" stroke-width="1.6"/>
<line x1="965.8" y1="811.7" x2="961.3" y2="810.7" stroke="#111" stroke-width="1.6"/>
<line x1="959.2" y1="839.2" x2="954.8" y2="837.9" stroke="#111" stroke-width="1.6"/>
<line x1="950.8" y1="865.8" x2="946.5" y2="864.2" stroke="#111" stroke-width="1.6"/>
<line x1="938.3" y1="895.8" x2="934.2" y2="893.8" stroke="#111" stroke-width="1.6"/>
<line x1="923.3" y1="925.0" x2="919.4" y2="922.6" stroke="#111" stroke-width="1.6"/>
<line x1="905.8" y1="951.7" x2="902.2" y2="948.9" stroke="#111" stroke-width="1.6"/>
<line x1="884.0" y1="982.0" x2="880.7" y2="978.8" stroke="#111" stroke-width="1.6"/>
<g transform="rotate(9 969 778)">
<rect x="963.5" y="764.5" width="11.0" height="27.0" fill="#e6e3ca" stroke="#222" stroke-width="0.9"/>
</g>
<rect x="604.7" y="1001.7" width="256.3" height="4.2" fill="#fff" stroke="#222" stroke-width="1.0"/>
<line x1="657.0" y1="1005.6" x2="861.0" y2="1005.6" stroke="#111" stroke-width="1.6"/>
<rect x="604.7" y="835.5" width="4.3" height="170.4" fill="#fff" stroke="#222" stroke-width="1.0"/>
<rect x="658.1" y="1001.2" width="1.8" height="5.0" fill="#111" stroke="none" stroke-width="0"/>
<rect x="695.1" y="1001.2" width="1.8" height="5.0" fill="#111" stroke="none" stroke-width="0"/>
<rect x="723.6" y="1001.2" width="1.8" height="5.0" fill="#111" stroke="none" stroke-width="0"/>
<rect x="777.6" y="1001.2" width="1.8" height="5.0" fill="#111" stroke="none" stroke-width="0"/>
<rect x="805.1" y="1001.2" width="1.8" height="5.0" fill="#111" stroke="none" stroke-width="0"/>
<rect x="833.6" y="1001.2" width="1.8" height="5.0" fill="#111" stroke="none" stroke-width="0"/>
<rect x="605.0" y="945.0" width="11.3" height="19.2" fill="#fff" stroke="#111" stroke-width="1.2"/>
<rect x="640.0" y="676.7" width="5.0" height="27.0" fill="#f6f6f6" stroke="#4d4d4d" stroke-width="0.8"/>
<path d="M705.0,563.0 C703.6,569.9 698.8,593.8 696.7,604.4 C694.6,615.0 694.2,620.8 692.2,626.7 C690.2,632.6 687.7,636.7 684.4,640.0 C681.1,643.3 678.9,645.4 672.2,646.7 C665.5,648.0 649.0,647.6 644.4,647.8 L644.5,650.0 C649.2,649.8 665.7,650.3 672.6,648.9 C679.5,647.5 682.3,645.1 686.0,641.6 C689.6,638.0 692.1,633.5 694.3,627.4 C696.4,621.3 696.7,615.5 698.9,604.8 C701.0,594.2 705.8,570.3 707.2,563.4 Z" fill="#fff" stroke="#4d4d4d" stroke-width="0.7"/>
<path d="M644.4,647.8 L642.8,647.8 L642.8,652.2 L640,652.2" fill="none" stroke="#4d4d4d" stroke-width="0.7"/>
<line x1="680.6" y1="628.0" x2="680.6" y2="641.5" stroke="#4d4d4d" stroke-width="0.7"/>
<line x1="688.0" y1="575.0" x2="702.5" y2="575.0" stroke="#4d4d4d" stroke-width="0.7"/>
<line x1="688.0" y1="577.5" x2="702.0" y2="577.5" stroke="#4d4d4d" stroke-width="0.7"/>
<line x1="616.0" y1="652.8" x2="640.0" y2="652.8" stroke="#4d4d4d" stroke-width="0.9"/>
<path d="M616.0,652.8 A24.0,24.0 0 0 0 640.0,676.8" fill="none" stroke="#4d4d4d" stroke-width="0.7"/>
<path d="M558.3,703.7 H649.2 V835.8 H516.7 V703.7 H532.5 V820.3 H633.3 V719.7 H558.3 Z" fill="none" stroke="#1c1c1c" stroke-width="1.35"/>
<path d="M558.9,720.0 A25.6,25.6 0 0 1 533.3,745.6" fill="none" stroke="#333" stroke-width="0.7"/>
<rect x="566.7" y="754.7" width="32.5" height="31.1" fill="none" stroke="#444" stroke-width="1.8"/>
<line x1="533.0" y1="763.3" x2="566.7" y2="763.3" stroke="#444" stroke-width="0.6"/>
<line x1="599.2" y1="763.3" x2="633.0" y2="763.3" stroke="#444" stroke-width="0.6"/>
<line x1="533.0" y1="770.0" x2="566.7" y2="770.0" stroke="#444" stroke-width="0.6"/>
<line x1="599.2" y1="770.0" x2="633.0" y2="770.0" stroke="#444" stroke-width="0.6"/>
<line x1="533.0" y1="776.7" x2="566.7" y2="776.7" stroke="#444" stroke-width="0.6"/>
<line x1="599.2" y1="776.7" x2="633.0" y2="776.7" stroke="#444" stroke-width="0.6"/>
<line x1="533.0" y1="783.3" x2="566.7" y2="783.3" stroke="#444" stroke-width="0.6"/>
<line x1="599.2" y1="783.3" x2="633.0" y2="783.3" stroke="#444" stroke-width="0.6"/>
<line x1="568.3" y1="720.0" x2="568.3" y2="754.7" stroke="#444" stroke-width="0.6"/>
<line x1="575.8" y1="720.0" x2="575.8" y2="754.7" stroke="#444" stroke-width="0.6"/>
<line x1="582.5" y1="720.0" x2="582.5" y2="754.7" stroke="#444" stroke-width="0.6"/>
<line x1="590.8" y1="720.0" x2="590.8" y2="754.7" stroke="#444" stroke-width="0.6"/>
<line x1="575.8" y1="785.8" x2="575.8" y2="820.0" stroke="#444" stroke-width="0.6"/>
<line x1="597.5" y1="785.8" x2="597.5" y2="820.0" stroke="#444" stroke-width="0.6"/>
<path d="M586,786 L583,800 L590,798 L579,803 L587,801 L584,820 M590.5,786 L587.5,799.5 M591,801.5 L589,820" fill="none" stroke="#111" stroke-width="0.9"/>
<path d="M435.8,732 H486.7 V747.5 H451.3 V820.3 H475 V835.8 H435.8" fill="none" stroke="#1c1c1c" stroke-width="1.5"/>
<path d="M516.7,703.7 V731 H512.5 V747 H516.7 V820 H512.5 V835.8" fill="none" stroke="#1c1c1c" stroke-width="1.4"/>
<line x1="475.0" y1="792.0" x2="475.0" y2="820.3" stroke="#1c1c1c" stroke-width="1.0"/>
<line x1="451.3" y1="792.0" x2="475.0" y2="792.0" stroke="#666" stroke-width="0.7"/>
<circle cx="460.3" cy="804.0" r="5.6" fill="#fff" stroke="#111" stroke-width="1.2"/>
<line x1="466.0" y1="800.5" x2="475.0" y2="800.5" stroke="#333" stroke-width="0.7"/>
<line x1="466.0" y1="807.5" x2="475.0" y2="807.5" stroke="#333" stroke-width="0.7"/>
<path d="M472,747.5 V756 H478 L483.5,759 L474,781 V792" fill="none" stroke="#333" stroke-width="0.7"/>
<path d="M488.0,749.0 A22.0,22.0 0 0 0 510.0,771.0" fill="none" stroke="#333" stroke-width="0.7"/>
<rect x="510.4" y="748.0" width="2.2" height="23.0" fill="none" stroke="#333" stroke-width="0.6"/>
<line x1="434.0" y1="835.8" x2="649.2" y2="835.8" stroke="#1c1c1c" stroke-width="1.35"/>
<path d="M470.8,836 A134,142.5 0 0 0 605,978.3" fill="none" stroke="#1c1c1c" stroke-width="1.5"/>
<path d="M473.3,836 A131.5,140 0 0 0 605,976" fill="none" stroke="#777" stroke-width="0.6"/>
<path d="M483,836 H490 V841 M490,838 A18,18 0 0 0 508,858 H512 V836" fill="none" stroke="#333" stroke-width="0.7"/>
<rect x="519.3" y="843.3" width="24.0" height="24.0" fill="#fff" stroke="#555" stroke-width="0.7" rx="3"/>
<rect x="520.9" y="844.9" width="20.8" height="20.8" fill="none" stroke="#999" stroke-width="0.4" rx="2.5"/>
<circle cx="531.3" cy="855.3" r="8.4" fill="#a2a2a2" stroke="#444" stroke-width="0.6"/>
<line x1="522.9" y1="855.3" x2="539.7" y2="855.3" stroke="#222" stroke-width="0.45"/>
<line x1="523.5" y1="852.1" x2="539.1" y2="858.5" stroke="#222" stroke-width="0.45"/>
<line x1="525.4" y1="849.4" x2="537.2" y2="861.2" stroke="#222" stroke-width="0.45"/>
<line x1="528.1" y1="847.5" x2="534.5" y2="863.1" stroke="#222" stroke-width="0.45"/>
<line x1="531.3" y1="846.9" x2="531.3" y2="863.7" stroke="#222" stroke-width="0.45"/>
<line x1="534.5" y1="847.5" x2="528.1" y2="863.1" stroke="#222" stroke-width="0.45"/>
<line x1="537.2" y1="849.4" x2="525.4" y2="861.2" stroke="#222" stroke-width="0.45"/>
<line x1="539.1" y1="852.1" x2="523.5" y2="858.5" stroke="#222" stroke-width="0.45"/>
<rect x="577.2" y="843.3" width="24.0" height="24.0" fill="#fff" stroke="#555" stroke-width="0.7" rx="3"/>
<rect x="578.8" y="844.9" width="20.8" height="20.8" fill="none" stroke="#999" stroke-width="0.4" rx="2.5"/>
<circle cx="589.2" cy="855.3" r="8.4" fill="#a2a2a2" stroke="#444" stroke-width="0.6"/>
<line x1="580.8" y1="855.3" x2="597.6" y2="855.3" stroke="#222" stroke-width="0.45"/>
<line x1="581.4" y1="852.1" x2="597.0" y2="858.5" stroke="#222" stroke-width="0.45"/>
<line x1="583.3" y1="849.4" x2="595.1" y2="861.2" stroke="#222" stroke-width="0.45"/>
<line x1="586.0" y1="847.5" x2="592.4" y2="863.1" stroke="#222" stroke-width="0.45"/>
<line x1="589.2" y1="846.9" x2="589.2" y2="863.7" stroke="#222" stroke-width="0.45"/>
<line x1="592.4" y1="847.5" x2="586.0" y2="863.1" stroke="#222" stroke-width="0.45"/>
<line x1="595.1" y1="849.4" x2="583.3" y2="861.2" stroke="#222" stroke-width="0.45"/>
<line x1="597.0" y1="852.1" x2="581.4" y2="858.5" stroke="#222" stroke-width="0.45"/>
<rect x="552.2" y="888.8" width="24.0" height="24.0" fill="#fff" stroke="#555" stroke-width="0.7" rx="3"/>
<rect x="553.8" y="890.4" width="20.8" height="20.8" fill="none" stroke="#999" stroke-width="0.4" rx="2.5"/>
<circle cx="564.2" cy="900.8" r="8.4" fill="#a2a2a2" stroke="#444" stroke-width="0.6"/>
<line x1="555.8" y1="900.8" x2="572.6" y2="900.8" stroke="#222" stroke-width="0.45"/>
<line x1="556.4" y1="897.6" x2="572.0" y2="904.0" stroke="#222" stroke-width="0.45"/>
<line x1="558.3" y1="894.9" x2="570.1" y2="906.7" stroke="#222" stroke-width="0.45"/>
<line x1="561.0" y1="893.0" x2="567.4" y2="908.6" stroke="#222" stroke-width="0.45"/>
<line x1="564.2" y1="892.4" x2="564.2" y2="909.2" stroke="#222" stroke-width="0.45"/>
<line x1="567.4" y1="893.0" x2="561.0" y2="908.6" stroke="#222" stroke-width="0.45"/>
<line x1="570.1" y1="894.9" x2="558.3" y2="906.7" stroke="#222" stroke-width="0.45"/>
<line x1="572.0" y1="897.6" x2="556.4" y2="904.0" stroke="#222" stroke-width="0.45"/>
<rect x="577.2" y="930.5" width="24.0" height="24.0" fill="#fff" stroke="#555" stroke-width="0.7" rx="3"/>
<rect x="578.8" y="932.1" width="20.8" height="20.8" fill="none" stroke="#999" stroke-width="0.4" rx="2.5"/>
<circle cx="589.2" cy="942.5" r="8.4" fill="#a2a2a2" stroke="#444" stroke-width="0.6"/>
<line x1="580.8" y1="942.5" x2="597.6" y2="942.5" stroke="#222" stroke-width="0.45"/>
<line x1="581.4" y1="939.3" x2="597.0" y2="945.7" stroke="#222" stroke-width="0.45"/>
<line x1="583.3" y1="936.6" x2="595.1" y2="948.4" stroke="#222" stroke-width="0.45"/>
<line x1="586.0" y1="934.7" x2="592.4" y2="950.3" stroke="#222" stroke-width="0.45"/>
<line x1="589.2" y1="934.1" x2="589.2" y2="950.9" stroke="#222" stroke-width="0.45"/>
<line x1="592.4" y1="934.7" x2="586.0" y2="950.3" stroke="#222" stroke-width="0.45"/>
<line x1="595.1" y1="936.6" x2="583.3" y2="948.4" stroke="#222" stroke-width="0.45"/>
<line x1="597.0" y1="939.3" x2="581.4" y2="945.7" stroke="#222" stroke-width="0.45"/>
<rect x="503.0" y="836.0" width="44.0" height="39.0" fill="none" stroke="#aaa" stroke-width="0.6" stroke-dasharray="3 2"/>
<rect x="561.0" y="836.0" width="43.0" height="39.0" fill="none" stroke="#aaa" stroke-width="0.6" stroke-dasharray="3 2"/>
<rect x="536.0" y="881.0" width="43.0" height="39.0" fill="none" stroke="#aaa" stroke-width="0.6" stroke-dasharray="3 2"/>
<rect x="561.0" y="925.0" width="43.0" height="37.0" fill="none" stroke="#aaa" stroke-width="0.6" stroke-dasharray="3 2"/>
<rect x="688.0" y="280.5" width="17.5" height="20.3" fill="#ededed" stroke="#777" stroke-width="0.7"/>
<rect x="688.0" y="300.8" width="17.5" height="35.0" fill="#ededed" stroke="#777" stroke-width="0.7"/>
<rect x="692.5" y="308.0" width="11.3" height="12.3" fill="#b9d6dd" stroke="#a9c4cb" stroke-width="0.5"/>
<rect x="688.0" y="335.8" width="18.0" height="22.5" fill="#1a1a1a" stroke="#111" stroke-width="0.6"/>
<rect x="689.5" y="344.5" width="15.0" height="5.0" fill="#fff" stroke="none" stroke-width="0"/>
<circle cx="693.0" cy="340.2" r="1.7" fill="none" stroke="#ddd" stroke-width="0.6"/>
<circle cx="698.5" cy="340.2" r="1.7" fill="none" stroke="#ddd" stroke-width="0.6"/>
<circle cx="693.0" cy="354.0" r="1.7" fill="none" stroke="#ddd" stroke-width="0.6"/>
<circle cx="698.5" cy="354.0" r="1.7" fill="none" stroke="#ddd" stroke-width="0.6"/>
<rect x="688.0" y="358.3" width="17.5" height="36.3" fill="#ededed" stroke="#777" stroke-width="0.7"/>
<rect x="688.0" y="395.0" width="20.5" height="32.0" fill="#ededed" stroke="#222" stroke-width="1.0"/>
<rect x="706.5" y="396.0" width="2.8" height="30.0" fill="#333" stroke="none" stroke-width="0"/>
<rect x="688.5" y="427.0" width="17.5" height="4.5" fill="#222" stroke="none" stroke-width="0"/>
<line x1="692.0" y1="282.0" x2="692.0" y2="394.0" stroke="#999" stroke-width="0.5" stroke-dasharray="3 2"/>
<rect x="706.0" y="281.0" width="16.0" height="19.5" fill="none" stroke="#999" stroke-width="0.7" stroke-dasharray="4 2.5"/>
<path d="M743.5,296 Q743.5,292.5 747,292.5 H764 Q775,292.5 777.5,302 Q787,350 778,388 Q772,415 765,427 Q761,432.5 756,429 Q748,420 745,405 Q743.5,398 743.5,390 Z" fill="none" stroke="#555" stroke-width="0.85"/>
<path d="M746.8,309.2 H768 Q778,345 771,385 H746.8 Z" fill="none" stroke="#8c8c8c" stroke-width="0.75" stroke-dasharray="4 2.5"/>
<rect x="746.3" y="336.3" width="11.7" height="21.2" fill="#b9d6dd" stroke="#a9c4cb" stroke-width="0.5"/>
<circle cx="761.3" cy="347.5" r="0.9" fill="#222" stroke="none" stroke-width="0"/>
<rect x="728.2" y="317.8" width="15.8" height="16.0" fill="none" stroke="#8c8c8c" stroke-width="0.75" stroke-dasharray="4 2.5"/>
<rect x="745.2" y="317.8" width="15.8" height="16.0" fill="none" stroke="#8c8c8c" stroke-width="0.75" stroke-dasharray="4 2.5"/>
<line x1="744.6" y1="317.8" x2="744.6" y2="333.8" stroke="#222" stroke-width="1.2"/>
<rect x="728.2" y="360.5" width="15.8" height="16.0" fill="none" stroke="#8c8c8c" stroke-width="0.75" stroke-dasharray="4 2.5"/>
<rect x="745.2" y="360.5" width="15.8" height="16.0" fill="none" stroke="#8c8c8c" stroke-width="0.75" stroke-dasharray="4 2.5"/>
<line x1="744.6" y1="360.5" x2="744.6" y2="376.5" stroke="#222" stroke-width="1.2"/>
<rect x="775.8" y="300.3" width="11" height="12" rx="1.5" fill="none" stroke="#a6a6a6" stroke-width="0.7" transform="rotate(-14 779.3 306.3)"/>
<rect x="778.7" y="320.7" width="11" height="12" rx="1.5" fill="none" stroke="#a6a6a6" stroke-width="0.7" transform="rotate(-6 782.2 326.7)"/>
<rect x="779.2" y="340.7" width="11" height="12" rx="1.5" fill="none" stroke="#a6a6a6" stroke-width="0.7" transform="rotate(0 782.7 346.7)"/>
<rect x="778.7" y="360.7" width="11" height="12" rx="1.5" fill="none" stroke="#a6a6a6" stroke-width="0.7" transform="rotate(5 782.2 366.7)"/>
<rect x="775.8" y="380.7" width="11" height="12" rx="1.5" fill="none" stroke="#a6a6a6" stroke-width="0.7" transform="rotate(14 779.3 386.7)"/>
<rect x="772.5" y="400.7" width="11" height="12" rx="1.5" fill="none" stroke="#a6a6a6" stroke-width="0.7" transform="rotate(22 776 406.7)"/>
<rect x="710.0" y="394.0" width="16.0" height="32.7" fill="none" stroke="#999" stroke-width="0.7" stroke-dasharray="4 2.5"/>
<line x1="688.0" y1="431.5" x2="710.0" y2="431.5" stroke="#4d4d4d" stroke-width="0.8"/>
<line x1="688.0" y1="434.0" x2="708.0" y2="434.0" stroke="#4d4d4d" stroke-width="0.8"/>
<path d="M710,431.5 L714,437 Q728,430 738,441 L722,453 Q727,459 733,456 Q739,470 736,480" fill="none" stroke="#4d4d4d" stroke-width="0.7"/>
<line x1="688.0" y1="467.5" x2="736.0" y2="467.5" stroke="#4d4d4d" stroke-width="0.7"/>
<line x1="688.0" y1="480.4" x2="737.0" y2="480.4" stroke="#4d4d4d" stroke-width="0.7"/>
<line x1="688.0" y1="482.8" x2="735.0" y2="482.8" stroke="#4d4d4d" stroke-width="0.7"/>
<path d="M736,482 L728,499 L733,505 L730,520 L721,522 L714,537 L718,545 L715,558 L721,562 L708,586 L703,600" fill="none" stroke="#4d4d4d" stroke-width="0.7"/>
<line x1="688.0" y1="535.6" x2="713.0" y2="535.6" stroke="#4d4d4d" stroke-width="0.7"/>
<line x1="688.0" y1="538.0" x2="712.0" y2="538.0" stroke="#4d4d4d" stroke-width="0.7"/>
<line x1="688.0" y1="574.0" x2="703.0" y2="574.0" stroke="#4d4d4d" stroke-width="0.7"/>
<rect x="688.5" y="543.0" width="13.8" height="13.5" fill="none" stroke="#111" stroke-width="1.2"/>
<line x1="688.5" y1="543.0" x2="702.3" y2="556.5" stroke="#111" stroke-width="0.9"/>
<line x1="702.3" y1="543.0" x2="688.5" y2="556.5" stroke="#111" stroke-width="0.9"/>
<text x="702.5" y="554.5" font-size="9.5" fill="#222">C</text>
<path d="M694,484 H709.5 V488 A7.7,7.7 0 0 1 694,488 Z" fill="#b9d6dd" stroke="#8fb0b8" stroke-width="0.5"/>
<path d="M697.5,533.5 H710 V529.5 H707.5 Q710,524 707,519.5 Q703.8,515.5 700.5,519.5 Q697.5,524 700,529.5 H697.5 Z" fill="#b9d6dd" stroke="#8fb0b8" stroke-width="0.5"/>
<path d="M823.3,425 H905 Q918,425 922.5,418 L925.5,418 Q922,429.3 905,429.3 H825.8 V447.5 H823.3 Z" fill="#fff" stroke="#4d4d4d" stroke-width="0.7"/>
<path d="M894.3,409.7 H843.8 A26,26 0 0 0 817.8,435.7 Q817.5,444 824.5,447.2" fill="none" stroke="#4d4d4d" stroke-width="0.7"/>
<circle cx="849.8" cy="416.5" r="5.6" fill="#b9d6dd" stroke="#7f9aa1" stroke-width="0.7"/>
<circle cx="849.8" cy="424.3" r="0.9" fill="#222" stroke="none" stroke-width="0"/>
<path d="M857.3,400 V425 M868.8,400 V425 M876.6,400 V425 M891.7,394 V425 M857.3,400 H868.8 M876.6,400 Q878,388 891.7,386" fill="none" stroke="#999" stroke-width="0.7" stroke-dasharray="4 2.5"/>
<rect x="872.4" y="430.3" width="39.6" height="2.7" fill="#cfcfcf" stroke="#b5b5b5" stroke-width="0.4"/>
<line x1="825.0" y1="447.5" x2="839.2" y2="430.0" stroke="#4d4d4d" stroke-width="0.9"/>
<path d="M839.2,430.0 A22.5,22.5 0 0 1 824.2,470.0" fill="none" stroke="#4d4d4d" stroke-width="0.7"/>
<rect x="821.7" y="470.0" width="3.3" height="32.5" fill="#f6f6f6" stroke="#4d4d4d" stroke-width="0.7"/>
<rect x="821.7" y="525.0" width="3.3" height="28.0" fill="#f6f6f6" stroke="#4d4d4d" stroke-width="0.7"/>
<line x1="825.0" y1="525.0" x2="847.5" y2="525.0" stroke="#4d4d4d" stroke-width="0.9"/>
<path d="M847.5,525.0 A22.5,22.5 0 0 0 825.0,502.5" fill="none" stroke="#4d4d4d" stroke-width="0.7"/>
<path d="M822.0,472.5 C818.6,472.5 807.0,471.2 801.7,472.5 C796.4,473.8 793.1,476.5 790.0,480.0 C786.9,483.5 786.6,485.8 783.3,493.3 C780.0,500.8 773.5,516.7 770.0,525.0 C766.5,533.3 763.8,540.0 762.5,543.0 L766.5,544.5 C767.8,541.5 770.6,534.8 774.0,526.5 C777.4,518.2 783.8,502.2 787.0,495.0 C790.2,487.8 790.8,486.1 793.5,483.0 C796.2,479.9 798.2,477.8 803.0,476.7 C807.8,475.6 818.8,476.7 822.0,476.7 Z" fill="#fff" stroke="#4d4d4d" stroke-width="0.7"/>
<path d="M818,481 H797 L776,533" fill="none" stroke="#8c8c8c" stroke-width="0.75" stroke-dasharray="4 2.5"/>
<g transform="rotate(24 765 553)">
<rect x="756.5" y="541.0" width="17.0" height="24.0" fill="#fff" stroke="#111" stroke-width="1.3"/>
</g>
<rect x="797.5" y="544.0" width="4.2" height="99.3" fill="#f6f6f6" stroke="#4d4d4d" stroke-width="0.7"/>
<line x1="778.0" y1="544.0" x2="822.0" y2="544.0" stroke="#4d4d4d" stroke-width="0.7"/>
<line x1="778.0" y1="546.5" x2="798.0" y2="546.5" stroke="#4d4d4d" stroke-width="0.7"/>
<rect x="778.3" y="549.2" width="17.5" height="18.3" fill="#ededed" stroke="#888" stroke-width="0.8" rx="2"/>
<rect x="780.0" y="551.0" width="14.0" height="11.0" fill="none" stroke="#aaa" stroke-width="0.5" rx="2"/>
<line x1="796.5" y1="549.0" x2="796.5" y2="575.0" stroke="#888" stroke-width="1.2"/>
<path d="M757,565 L743.3,588.3 L748,590 L762,566" fill="none" stroke="#4d4d4d" stroke-width="0.7"/>
<path d="M748,590 Q764,596 760,612 L738,609" fill="none" stroke="#4d4d4d" stroke-width="0.7"/>
<path d="M740,608 L734.2,643.3 M742.5,610 L737,643.3" fill="none" stroke="#4d4d4d" stroke-width="0.7"/>
<path d="M738.3,626.7 H781.7 V597.5 H797.5 M738.3,629 H784 V600 H797.5" fill="none" stroke="#4d4d4d" stroke-width="0.7"/>
<path d="M739,636 H790 V604" fill="none" stroke="#8c8c8c" stroke-width="0.75" stroke-dasharray="4 2.5"/>
<rect x="783.3" y="605.8" width="12.5" height="12.5" fill="#b9d6dd" stroke="#a9c4cb" stroke-width="0.5"/>
<rect x="801.7" y="551.3" width="54.1" height="3.7" fill="#f6f6f6" stroke="#4d4d4d" stroke-width="0.7"/>
<rect x="846.7" y="555.0" width="5.0" height="21.0" fill="#f6f6f6" stroke="#4d4d4d" stroke-width="0.7"/>
<rect x="846.7" y="605.0" width="5.0" height="38.3" fill="#f6f6f6" stroke="#4d4d4d" stroke-width="0.7"/>
<rect x="849.2" y="557.0" width="2.4" height="25.0" fill="#999" stroke="#666" stroke-width="0.4"/>
<path d="M806,558 V640 M806,560 H846 M806,638 H846 M842,558 V576 M842,606 V640" fill="none" stroke="#8c8c8c" stroke-width="0.75" stroke-dasharray="4 2.5"/>
<path d="M811,565 H837 V577 H846 M811,565 V633 H837 V605 H846" fill="none" stroke="#4d4d4d" stroke-width="0.7"/>
<rect x="878.3" y="551.3" width="100.5" height="4.0" fill="#f6f6f6" stroke="#4d4d4d" stroke-width="0.7"/>
<line x1="857.5" y1="555.0" x2="857.5" y2="577.5" stroke="#4d4d4d" stroke-width="1.0"/>
<path d="M857.5,577.5 A21.5,21.5 0 0 0 879.0,556.0" fill="none" stroke="#4d4d4d" stroke-width="0.7"/>
<rect x="889.6" y="558.0" width="88.9" height="14.5" fill="#ededed" stroke="#999" stroke-width="0.6"/>
<line x1="889.2" y1="555.8" x2="889.2" y2="573.3" stroke="#222" stroke-width="1.5"/>
<rect x="900.8" y="560.0" width="11.7" height="9.7" fill="#b9d6dd" stroke="#a9c4cb" stroke-width="0.5"/>
<rect x="956.7" y="560.0" width="11.6" height="9.7" fill="#b9d6dd" stroke="#a9c4cb" stroke-width="0.5"/>
<path d="M928,573 H940 V578 Q934,582 928,578 Z" fill="none" stroke="#a6a6a6" stroke-width="0.6"/>
<path d="M856.3,609 V593.3 Q870,593.5 871.7,608.5 H890 V642.5" fill="none" stroke="#111" stroke-width="1.6"/>
<rect x="852.0" y="609.2" width="38.0" height="33.3" fill="#b9d6dd" stroke="#a9c4cb" stroke-width="0.5"/>
<line x1="877.5" y1="609.2" x2="877.5" y2="642.5" stroke="#a5c2c9" stroke-width="0.5"/>
<line x1="952.0" y1="607.5" x2="952.0" y2="643.0" stroke="#555" stroke-width="1.6"/>
<rect x="900.8" y="618" width="45" height="20.3" rx="6" fill="#b9d6dd" stroke="#7f9aa1" stroke-width="0.7"/>
<rect x="903.5" y="620.2" width="39.6" height="15.9" rx="5" fill="none" stroke="#8fb0b8" stroke-width="0.5"/>
<path d="M960,640.8 H972.5 V636 H969.5 Q972.5,630 969.5,625 Q966.2,621 963,625 Q960,630 963,636 H960 Z" fill="#b9d6dd" stroke="#8fb0b8" stroke-width="0.5"/>
<rect x="733.3" y="643.3" width="245.5" height="3.4" fill="#f6f6f6" stroke="#4d4d4d" stroke-width="0.7"/>
<path d="M733.3,646.7 C733.0,650.6 731.4,662.8 731.7,670.0 C732.0,677.2 733.6,685.5 735.0,690.0 C736.4,694.5 739.2,695.6 740.0,696.7 L743.0,692.0 C742.2,691.2 739.2,690.7 738.0,687.0 C736.8,683.3 735.6,676.7 735.5,670.0 C735.4,663.3 737.2,650.6 737.5,646.7 Z" fill="#fff" stroke="#4d4d4d" stroke-width="0.7"/>
<rect x="740.0" y="691.7" width="79.2" height="5.0" fill="#f6f6f6" stroke="#4d4d4d" stroke-width="0.7"/>
<line x1="741.0" y1="646.7" x2="741.0" y2="692.0" stroke="#4d4d4d" stroke-width="0.7"/>
<rect x="743.3" y="648.3" width="25.0" height="45.9" fill="#b9d6dd" stroke="#a9c4cb" stroke-width="0.5"/>
<line x1="769.2" y1="648.3" x2="769.2" y2="674.2" stroke="#111" stroke-width="1.5"/>
<rect x="816.7" y="646.7" width="2.5" height="21.6" fill="#f6f6f6" stroke="#4d4d4d" stroke-width="0.7"/>
<rect x="793.3" y="646.7" width="23.4" height="16.6" fill="#ededed" stroke="#4d4d4d" stroke-width="0.7"/>
<rect x="799.7" y="652.5" width="11.1" height="8.3" fill="#b9d6dd" stroke="#a9c4cb" stroke-width="0.5"/>
<path d="M775,648 H787 V651.5 H784.5 Q787.5,656 785.5,661 Q781,665.5 776.5,661 Q774.5,656 777.5,651.5 H775 Z" fill="#b9d6dd" stroke="#7f9aa1" stroke-width="0.5"/>
<rect x="794.2" y="689.2" width="25.0" height="3.3" fill="#f6f6f6" stroke="#4d4d4d" stroke-width="0.7"/>
<path d="M794.7,690.0 A22.0,22.0 0 0 1 816.7,668.0" fill="none" stroke="#4d4d4d" stroke-width="0.7"/>
<rect x="791.7" y="696.7" width="3.3" height="9.1" fill="#f6f6f6" stroke="#4d4d4d" stroke-width="0.7"/>
<rect x="791.7" y="728.3" width="16.6" height="4.2" fill="#f6f6f6" stroke="#4d4d4d" stroke-width="0.7"/>
<path d="M795.0,705.7 A22.3,22.3 0 0 1 817.3,728.0" fill="none" stroke="#4d4d4d" stroke-width="0.7"/>
<path d="M735,794 V741 Q735,732.5 743,732.5 H810 V757.5 H975.5 V760.8 H810 V794.2 Z" fill="#e6e7e8" stroke="none" stroke-width="0"/>
<path d="M735,790 V741 Q735,732.5 743,732.5 H808.3" fill="none" stroke="#4d4d4d" stroke-width="0.7"/>
<path d="M738.3,790 V743 Q738.3,735.8 745,735.8 H806.7" fill="none" stroke="#4d4d4d" stroke-width="0.7"/>
<rect x="770.0" y="735.8" width="3.3" height="55.0" fill="#f6f6f6" stroke="#4d4d4d" stroke-width="0.7"/>
<rect x="806.7" y="735.8" width="3.3" height="30.2" fill="#f6f6f6" stroke="#4d4d4d" stroke-width="0.7"/>
<rect x="735.0" y="790.8" width="75.0" height="3.4" fill="#f6f6f6" stroke="#4d4d4d" stroke-width="0.7"/>
<rect x="810.0" y="757.5" width="165.5" height="3.3" fill="#f6f6f6" stroke="#4d4d4d" stroke-width="0.7"/>
<rect x="754.2" y="741.3" width="21.1" height="12.0" fill="#fff" stroke="#111" stroke-width="1.4"/>
<path d="M739,742 H806 M756,742 V790 M760,754 V790 M739,781 H769 M777,742 V790 M783,742 V790" fill="none" stroke="#8c8c8c" stroke-width="0.75" stroke-dasharray="4 2.5"/>
<path d="M735,756.5 L723.5,758.5 L733.5,777.5 L735,777" fill="#e6e7e8" stroke="#4d4d4d" stroke-width="0.7"/>
<path d="M784.7,788.0 A22.0,22.0 0 0 1 806.7,766.0" fill="none" stroke="#4d4d4d" stroke-width="0.7"/>
<line x1="784.7" y1="788.0" x2="806.7" y2="788.0" stroke="#4d4d4d" stroke-width="0.8"/>
<rect x="851.7" y="733.3" width="3.3" height="24.2" fill="#f6f6f6" stroke="#4d4d4d" stroke-width="0.7"/>
<rect x="848.3" y="733.3" width="6.7" height="2.7" fill="#f6f6f6" stroke="#4d4d4d" stroke-width="0.7"/>
<line x1="810.0" y1="733.3" x2="831.0" y2="733.3" stroke="#222" stroke-width="1.4"/>
<path d="M821,737 V752 H851" fill="none" stroke="#4d4d4d" stroke-width="0.7"/>
<path d="M813,737 V754 M813,752 H851 M817,737 V754" fill="none" stroke="#8c8c8c" stroke-width="0.75" stroke-dasharray="4 2.5"/>
<rect x="905.0" y="755.2" width="32.0" height="2.2" fill="#c9c9c9" stroke="#aaa" stroke-width="0.4"/>
<path d="M735,794 V838 Q735,846.7 744,846.7 H810" fill="none" stroke="#4d4d4d" stroke-width="0.7"/>
<path d="M738.3,794 V836 Q738.3,842.5 746,842.5 H807.5" fill="none" stroke="#4d4d4d" stroke-width="0.7"/>
<rect x="807.5" y="821.7" width="2.5" height="25.0" fill="#f6f6f6" stroke="#4d4d4d" stroke-width="0.7"/>
<rect x="806.7" y="846.7" width="3.3" height="6.3" fill="#f6f6f6" stroke="#4d4d4d" stroke-width="0.7"/>
<rect x="738.8" y="795.0" width="22.0" height="47.0" fill="#b9d6dd" stroke="#a9c4cb" stroke-width="0.5"/>
<ellipse cx="749.8" cy="818.5" rx="7" ry="20" fill="none" stroke="#a5c2c9" stroke-width="0.6"/>
<path d="M765.5,842 H779.5 V837 H776.5 Q779.5,831 776.5,826 Q772.5,822 768.5,826 Q765.5,831 768.5,837 H765.5 Z" fill="#b9d6dd" stroke="#7f9aa1" stroke-width="0.5"/>
<rect x="784.0" y="824.5" width="23.5" height="18.0" fill="#ededed" stroke="#4d4d4d" stroke-width="0.7"/>
<rect x="790.0" y="828.8" width="12.5" height="9.5" fill="#b9d6dd" stroke="#a9c4cb" stroke-width="0.5"/>
<path d="M807.5,821.5 A22.0,22.0 0 0 1 785.5,799.5" fill="none" stroke="#4d4d4d" stroke-width="0.7"/>
<rect x="806.7" y="875.8" width="139.8" height="4.2" fill="#f6f6f6" stroke="#4d4d4d" stroke-width="0.7"/>
<path d="M810.0,852.0 A23.0,23.0 0 0 1 833.0,875.0" fill="none" stroke="#4d4d4d" stroke-width="0.7"/>
<line x1="810.0" y1="852.0" x2="810.0" y2="875.0" stroke="#4d4d4d" stroke-width="0.7"/>
<rect x="879.0" y="873.6" width="32.0" height="2.1" fill="#c9c9c9" stroke="#aaa" stroke-width="0.4"/>
<path d="M700,827.5 H703.3 V878.3 H783.3 V904 H779.2 V881.5 H728.3 V1002 H724.2 V881.5 H700 Z" fill="#fff" stroke="#4d4d4d" stroke-width="0.7"/>
<path d="M703.3,863.5 A23.0,23.0 0 0 1 680.3,840.5" fill="none" stroke="#4d4d4d" stroke-width="0.7"/>
<path d="M783.3,903.5 A23.5,23.5 0 0 0 806.8,880.0" fill="none" stroke="#4d4d4d" stroke-width="0.7"/>
<line x1="783.3" y1="903.5" x2="806.7" y2="903.5" stroke="#4d4d4d" stroke-width="0.0"/>
<rect x="649.5" y="745.0" width="53.8" height="3.3" fill="#f6f6f6" stroke="#4d4d4d" stroke-width="0.7"/>
<rect x="700.0" y="748.3" width="3.3" height="79.2" fill="#f6f6f6" stroke="#4d4d4d" stroke-width="0.7"/>
<rect x="676.7" y="703.7" width="3.3" height="41.3" fill="#f6f6f6" stroke="#4d4d4d" stroke-width="0.7"/>
<rect x="649.5" y="824.2" width="26.5" height="3.3" fill="#f6f6f6" stroke="#4d4d4d" stroke-width="0.7"/>
<path d="M650,703.7 V700 L657.5,689.5 L677,704" fill="#e6e7e8" stroke="#4d4d4d" stroke-width="0.7"/>
<path d="M680,704 Q690,697 698,703 Q702.5,708 702.5,722 L713.5,728.5 L703,744" fill="#e6e7e8" stroke="#4d4d4d" stroke-width="0.7"/>
<line x1="652.0" y1="735.5" x2="676.0" y2="735.5" stroke="#8c8c8c" stroke-width="0.75" stroke-dasharray="4 2.5"/>
<rect x="683.7" y="727.5" width="13.8" height="13.3" fill="#fff" stroke="#111" stroke-width="1.2"/>
<line x1="683.7" y1="727.5" x2="697.5" y2="740.8" stroke="#111" stroke-width="0.9"/>
<line x1="697.5" y1="727.5" x2="683.7" y2="740.8" stroke="#111" stroke-width="0.9"/>
<rect x="653.0" y="749.2" width="47.0" height="26.6" fill="#b9d6dd" stroke="#a9c4cb" stroke-width="0.5"/>
<path d="M653.5,783 H657.5 V786 Q662,782 668,784 Q673.5,788 668,792 Q662,794 657.5,790 V793.5 H653.5 Z" fill="#b9d6dd" stroke="#7f9aa1" stroke-width="0.5"/>
<rect x="652.5" y="800.0" width="15.5" height="24.0" fill="#ededed" stroke="#4d4d4d" stroke-width="0.6"/>
<rect x="656.0" y="803.5" width="9.0" height="14.0" fill="#b9d6dd" stroke="#a9c4cb" stroke-width="0.5"/>
<path d="M675.0,825.0 A23.0,23.0 0 0 1 698.0,802.0" fill="none" stroke="#4d4d4d" stroke-width="0.7"/>
<line x1="698.0" y1="802.0" x2="698.0" y2="825.0" stroke="#4d4d4d" stroke-width="0.8"/>
<path d="M668,777 H699 M691,777 V823 M668,823 H691" fill="none" stroke="#999" stroke-width="0.7" stroke-dasharray="4 2.5"/>
<path d="M680.3,862.0 A23.0,23.0 0 0 0 703.3,885.0" fill="none" stroke="#4d4d4d" stroke-width="0.0"/>
<rect x="729.2" y="880.5" width="47.5" height="23.7" fill="#b9d6dd" stroke="#a9c4cb" stroke-width="0.5"/>
<line x1="729.2" y1="904.8" x2="761.0" y2="904.8" stroke="#111" stroke-width="1.5"/>
<path d="M730,910.5 H734.5 V913.5 Q739,909.5 745,911.5 Q750.5,916.5 745,921.5 Q739,923.5 734.5,919.5 V922.5 H730 Z" fill="#b9d6dd" stroke="#7f9aa1" stroke-width="0.5"/>
<rect x="729.5" y="929.5" width="16.0" height="22.5" fill="#ededed" stroke="#4d4d4d" stroke-width="0.6"/>
<rect x="734.2" y="935.0" width="8.6" height="12.5" fill="#b9d6dd" stroke="#a9c4cb" stroke-width="0.5"/>
<rect x="722.3" y="904.0" width="1.9" height="32.0" fill="#c9c9c9" stroke="#aaa" stroke-width="0.4"/>
<rect x="779.2" y="948.3" width="4.1" height="53.7" fill="#f6f6f6" stroke="#4d4d4d" stroke-width="0.7"/>
<rect x="756.0" y="948.3" width="23.2" height="3.3" fill="#f6f6f6" stroke="#4d4d4d" stroke-width="0.7"/>
<path d="M756.2,948.3 A23.0,23.0 0 0 1 779.2,925.3" fill="none" stroke="#4d4d4d" stroke-width="0.7"/>
<rect x="751.7" y="954.2" width="26.6" height="13.0" fill="#fff" stroke="#111" stroke-width="1.4"/>
<path d="M728.3,953 H752" fill="none" stroke="#4d4d4d" stroke-width="0.7"/>
<path d="M739.5,966 V1002 M742.5,966 V1002 M728.3,966 H742.5 M753,967.2 V1002 M764.5,967.2 V1002" fill="none" stroke="#4d4d4d" stroke-width="0.7"/>
<path d="M729,960 H745 V1000 M748,958 V1000 M759,968 V1000" fill="none" stroke="#8c8c8c" stroke-width="0.75" stroke-dasharray="4 2.5"/>
<path d="M724.2,972 Q703,973 702.5,995 H724.2 M783.3,972 Q801,973 801.5,995 H783.3" fill="none" stroke="#4d4d4d" stroke-width="0.7"/>
<rect x="886.0" y="538.0" width="77.0" height="13.0" fill="#ececec" stroke="#c2c2c2" stroke-width="0.6"/>
<rect x="898.0" y="534.0" width="53.0" height="17.0" fill="#ececec" stroke="#c2c2c2" stroke-width="0.6"/>
<rect x="901.5" y="540.0" width="21.5" height="9.0" fill="#f3f3f3" stroke="#c2c2c2" stroke-width="0.6"/>
<rect x="927.0" y="540.0" width="21.0" height="9.0" fill="#f3f3f3" stroke="#c2c2c2" stroke-width="0.6"/>
<path d="M900.8,497.5 L948.7,497.5 L948.7,537.5 L913.8,537.5 L900.8,524.5 Z" fill="#b9d6dd" stroke="#a9c4cb" stroke-width="0.5"/>
<rect x="900.2" y="494.7" width="49.1" height="2.8" fill="#cdcdcd" stroke="none" stroke-width="0"/>
<rect x="864.2" y="648.0" width="38.8" height="13.0" fill="#ececec" stroke="#c2c2c2" stroke-width="0.6"/>
<rect x="866.7" y="651.0" width="14.9" height="8.0" fill="#f2f2f2" stroke="#c2c2c2" stroke-width="0.6"/>
<rect x="885.6" y="651.0" width="14.9" height="8.0" fill="#f2f2f2" stroke="#c2c2c2" stroke-width="0.6"/>
<rect x="850.7" y="648.0" width="12.0" height="12.0" fill="#ececec" stroke="#c2c2c2" stroke-width="0.6"/>
<rect x="904.5" y="648.0" width="12.0" height="12.0" fill="#ececec" stroke="#c2c2c2" stroke-width="0.6"/>
<rect x="917.5" y="648.0" width="39.5" height="13.0" fill="#ececec" stroke="#c2c2c2" stroke-width="0.6"/>
<rect x="920.0" y="651.0" width="15.2" height="8.0" fill="#f2f2f2" stroke="#c2c2c2" stroke-width="0.6"/>
<rect x="939.2" y="651.0" width="15.2" height="8.0" fill="#f2f2f2" stroke="#c2c2c2" stroke-width="0.6"/>
<rect x="904.0" y="648.0" width="12.0" height="12.0" fill="#ececec" stroke="#c2c2c2" stroke-width="0.6"/>
<rect x="958.5" y="648.0" width="12.0" height="12.0" fill="#ececec" stroke="#c2c2c2" stroke-width="0.6"/>
<path d="M864.2,660.3 L891.5,660.3 L903.0,671.8 L903.0,700.0 L864.2,700.0 Z" fill="#b9d6dd" stroke="#a9c4cb" stroke-width="0.5"/>
<rect x="863.6" y="700.0" width="40.0" height="2.8" fill="#cdcdcd" stroke="none" stroke-width="0"/>
<path d="M929.0,660.3 L957.0,660.3 L957.0,700.0 L917.5,700.0 L917.5,671.8 Z" fill="#b9d6dd" stroke="#a9c4cb" stroke-width="0.5"/>
<rect x="916.9" y="700.0" width="40.7" height="2.8" fill="#cdcdcd" stroke="none" stroke-width="0"/>
<rect x="848.3" y="762.0" width="39.2" height="13.0" fill="#ececec" stroke="#c2c2c2" stroke-width="0.6"/>
<rect x="850.8" y="765.0" width="15.1" height="8.0" fill="#f2f2f2" stroke="#c2c2c2" stroke-width="0.6"/>
<rect x="869.9" y="765.0" width="15.1" height="8.0" fill="#f2f2f2" stroke="#c2c2c2" stroke-width="0.6"/>
<rect x="834.8" y="762.0" width="12.0" height="12.0" fill="#ececec" stroke="#c2c2c2" stroke-width="0.6"/>
<rect x="889.0" y="762.0" width="12.0" height="12.0" fill="#ececec" stroke="#c2c2c2" stroke-width="0.6"/>
<rect x="902.5" y="762.0" width="39.5" height="13.0" fill="#ececec" stroke="#c2c2c2" stroke-width="0.6"/>
<rect x="905.0" y="765.0" width="15.2" height="8.0" fill="#f2f2f2" stroke="#c2c2c2" stroke-width="0.6"/>
<rect x="924.2" y="765.0" width="15.2" height="8.0" fill="#f2f2f2" stroke="#c2c2c2" stroke-width="0.6"/>
<rect x="889.0" y="762.0" width="12.0" height="12.0" fill="#ececec" stroke="#c2c2c2" stroke-width="0.6"/>
<rect x="943.5" y="762.0" width="12.0" height="12.0" fill="#ececec" stroke="#c2c2c2" stroke-width="0.6"/>
<path d="M848.3,774.2 L876.0,774.2 L887.5,785.7 L887.5,813.3 L848.3,813.3 Z" fill="#b9d6dd" stroke="#a9c4cb" stroke-width="0.5"/>
<rect x="847.7" y="813.3" width="40.4" height="2.8" fill="#cdcdcd" stroke="none" stroke-width="0"/>
<path d="M914.0,774.2 L942.0,774.2 L942.0,813.3 L902.5,813.3 L902.5,785.7 Z" fill="#b9d6dd" stroke="#a9c4cb" stroke-width="0.5"/>
<rect x="901.9" y="813.3" width="40.7" height="2.8" fill="#cdcdcd" stroke="none" stroke-width="0"/>
<rect x="843.3" y="882.0" width="40.0" height="13.0" fill="#ececec" stroke="#c2c2c2" stroke-width="0.6"/>
<rect x="845.8" y="885.0" width="15.5" height="8.0" fill="#f2f2f2" stroke="#c2c2c2" stroke-width="0.6"/>
<rect x="865.3" y="885.0" width="15.5" height="8.0" fill="#f2f2f2" stroke="#c2c2c2" stroke-width="0.6"/>
<rect x="829.8" y="882.0" width="12.0" height="12.0" fill="#ececec" stroke="#c2c2c2" stroke-width="0.6"/>
<rect x="884.8" y="882.0" width="12.0" height="12.0" fill="#ececec" stroke="#c2c2c2" stroke-width="0.6"/>
<path d="M843.3,894.2 L870.8,894.2 L883.3,906.7 L883.3,934.2 L843.3,934.2 Z" fill="#b9d6dd" stroke="#a9c4cb" stroke-width="0.5"/>
<rect x="842.7" y="934.2" width="41.2" height="2.8" fill="#cdcdcd" stroke="none" stroke-width="0"/>
<rect x="611.0" y="876.0" width="12.0" height="12.0" fill="#ececec" stroke="#c2c2c2" stroke-width="0.6"/>
<rect x="611.0" y="888.5" width="14.0" height="41.5" fill="#ececec" stroke="#c2c2c2" stroke-width="0.6"/>
<rect x="614.0" y="892.0" width="9.5" height="15.5" fill="#f3f3f3" stroke="#c2c2c2" stroke-width="0.6"/>
<rect x="614.0" y="911.0" width="9.5" height="15.5" fill="#f3f3f3" stroke="#c2c2c2" stroke-width="0.6"/>
<rect x="611.0" y="931.0" width="12.0" height="12.0" fill="#ececec" stroke="#c2c2c2" stroke-width="0.6"/>
<path d="M636.2,889.2 L663.3,889.2 L663.3,929.2 L624.2,929.2 L624.2,901.2 Z" fill="#b9d6dd" stroke="#a9c4cb" stroke-width="0.5"/>
<rect x="663.3" y="888.6" width="2.8" height="41.2" fill="#cdcdcd" stroke="none" stroke-width="0"/>
<rect x="611.0" y="966.0" width="14.0" height="35.0" fill="#ececec" stroke="#c2c2c2" stroke-width="0.6"/>
<rect x="614.0" y="975.0" width="9.5" height="24.0" fill="#f3f3f3" stroke="#c2c2c2" stroke-width="0.6"/>
<path d="M636.2,972.5 L663.8,972.5 L663.8,1000.5 L624.2,1000.5 L624.2,984.5 Z" fill="#b9d6dd" stroke="#a9c4cb" stroke-width="0.5"/>
<rect x="663.8" y="971.9" width="2.8" height="29.2" fill="#cdcdcd" stroke="none" stroke-width="0"/>
<rect x="762.0" y="160.0" width="38.0" height="25.0" fill="none" stroke="#a6a6a6" stroke-width="0.7" rx="3"/>
<rect x="768.0" y="166.0" width="13.0" height="19.0" fill="none" stroke="#a6a6a6" stroke-width="0.6"/>
<rect x="781.0" y="166.0" width="13.0" height="19.0" fill="none" stroke="#a6a6a6" stroke-width="0.6"/>
<line x1="762.0" y1="172.0" x2="800.0" y2="172.0" stroke="#a6a6a6" stroke-width="0.5"/>
<circle cx="815.0" cy="175.0" r="5.5" fill="none" stroke="#a6a6a6" stroke-width="0.7"/>
<circle cx="815.0" cy="175.0" r="3.3" fill="none" stroke="#a6a6a6" stroke-width="0.5"/>
<rect x="805.0" y="185.0" width="25.0" height="72.0" fill="none" stroke="#a6a6a6" stroke-width="0.7" rx="3"/>
<line x1="805.0" y1="203.0" x2="830.0" y2="203.0" stroke="#a6a6a6" stroke-width="0.5"/>
<line x1="805.0" y1="221.0" x2="830.0" y2="221.0" stroke="#a6a6a6" stroke-width="0.5"/>
<line x1="805.0" y1="239.0" x2="830.0" y2="239.0" stroke="#a6a6a6" stroke-width="0.5"/>
<line x1="812.0" y1="185.0" x2="812.0" y2="250.0" stroke="#a6a6a6" stroke-width="0.5"/>
<line x1="818.0" y1="185.0" x2="818.0" y2="250.0" stroke="#a6a6a6" stroke-width="0.5"/>
<rect x="765.5" y="205.0" width="24.5" height="32.0" fill="none" stroke="#a6a6a6" stroke-width="0.8" rx="3"/>
<rect x="778" y="254" width="15" height="15" rx="3.5" fill="none" stroke="#a6a6a6" stroke-width="0.7" transform="rotate(38 785.5 261.5)"/>
<rect x="792" y="268" width="16" height="16" rx="5" fill="none" stroke="#a6a6a6" stroke-width="0.7" transform="rotate(33 800 276)"/>
<rect x="794.5" y="270.5" width="11" height="13" rx="3" fill="none" stroke="#a6a6a6" stroke-width="0.5" transform="rotate(33 800 276)"/>
<circle cx="815.0" cy="265.0" r="5.6" fill="none" stroke="#a6a6a6" stroke-width="0.7"/>
<rect x="689.5" y="201.0" width="2.5" height="39.0" fill="#d6d6d6" stroke="#bbb" stroke-width="0.4"/>
<path d="M688,152 H720 L690,183 H688 Z" fill="#efefef" stroke="#888" stroke-width="0.7"/>
<g transform="rotate(-45 704 166)">
<rect x="692.0" y="162.0" width="24.0" height="8.0" fill="#f6f6f6" stroke="#222" stroke-width="1.0"/>
</g>
<circle cx="702.0" cy="167.5" r="1.6" fill="none" stroke="#222" stroke-width="0.8"/>
<rect x="841.0" y="313.0" width="23.5" height="67.0" fill="none" stroke="#a6a6a6" stroke-width="0.8"/>
<rect x="829.5" y="319.0" width="10.0" height="12.0" fill="none" stroke="#a6a6a6" stroke-width="0.6" rx="3.5"/>
<rect x="866.0" y="319.0" width="10.0" height="12.0" fill="none" stroke="#a6a6a6" stroke-width="0.6" rx="3.5"/>
<rect x="829.5" y="361.0" width="10.0" height="12.0" fill="none" stroke="#a6a6a6" stroke-width="0.6" rx="3.5"/>
<rect x="866.0" y="361.0" width="10.0" height="12.0" fill="none" stroke="#a6a6a6" stroke-width="0.6" rx="3.5"/>
<rect x="847.0" y="303.0" width="11.5" height="10.0" fill="none" stroke="#a6a6a6" stroke-width="0.6" rx="3"/>
<rect x="847.0" y="380.0" width="11.5" height="10.0" fill="none" stroke="#a6a6a6" stroke-width="0.6" rx="3"/>
<text x="705.5" y="218.0" font-size="11" textLength="52.5" lengthAdjust="spacingAndGlyphs" fill="#222" stroke="#222" stroke-width="0.22">Living Room</text>
<line x1="705.5" y1="221.0" x2="758.0" y2="221.0" stroke="#444" stroke-width="0.8"/>
<text x="705.5" y="230.8" font-size="8.2" textLength="53.5" lengthAdjust="spacingAndGlyphs" fill="#222" stroke="#222" stroke-width="0.22">22'-6"± x 18'-0"±</text>
<text x="825.8" y="343.3" font-size="11" textLength="55.5" lengthAdjust="spacingAndGlyphs" fill="#222" stroke="#222" stroke-width="0.22">Dining Room</text>
<line x1="825.8" y1="346.3" x2="881.3" y2="346.3" stroke="#444" stroke-width="0.8"/>
<text x="827.5" y="355.3" font-size="8.2" textLength="52.5" lengthAdjust="spacingAndGlyphs" fill="#222" stroke="#222" stroke-width="0.22">13'-6"± x 16'-0"±</text>
<text x="734.2" y="397.2" font-size="11" textLength="30.3" lengthAdjust="spacingAndGlyphs" fill="#222" stroke="#222" stroke-width="0.22">Kitchen</text>
<line x1="734.2" y1="400.2" x2="764.5" y2="400.2" stroke="#444" stroke-width="0.8"/>
<text x="723.7" y="409.5" font-size="8.2" textLength="51.6" lengthAdjust="spacingAndGlyphs" fill="#222" stroke="#222" stroke-width="0.22">11-11"± x 18'-5"±</text>
<text x="830.0" y="406.3" font-size="7.6" textLength="25.3" lengthAdjust="spacingAndGlyphs" fill="#333" stroke="#333" stroke-width="0.22">Wet Bar</text>
<text x="888.3" y="213.0" font-size="10.5" textLength="32.5" lengthAdjust="spacingAndGlyphs" fill="#222" stroke="#222" stroke-width="0.22">Balcony</text>
<line x1="888.3" y1="216.0" x2="920.8" y2="216.0" stroke="#444" stroke-width="0.8"/>
<text x="963.8" y="850.8" font-size="10.5" textLength="32.9" lengthAdjust="spacingAndGlyphs" fill="#222" stroke="#222" stroke-width="0.22">Balcony</text>
<line x1="963.8" y1="853.8" x2="996.7" y2="853.8" stroke="#444" stroke-width="0.8"/>
<text x="741.3" y="1029.7" font-size="10.5" textLength="32.0" lengthAdjust="spacingAndGlyphs" fill="#222" stroke="#222" stroke-width="0.22">Balcony</text>
<line x1="741.3" y1="1032.7" x2="773.3" y2="1032.7" stroke="#444" stroke-width="0.8"/>
<text x="694.7" y="446.2" font-size="11" textLength="30.0" lengthAdjust="spacingAndGlyphs" fill="#222" stroke="#222" stroke-width="0.22">Pantry/</text>
<line x1="694.7" y1="449.2" x2="724.7" y2="449.2" stroke="#444" stroke-width="0.8"/>
<text x="693.3" y="459.2" font-size="11" textLength="34.2" lengthAdjust="spacingAndGlyphs" fill="#222" stroke="#222" stroke-width="0.22">Owner's</text>
<line x1="693.3" y1="462.2" x2="727.5" y2="462.2" stroke="#444" stroke-width="0.8"/>
<text x="697.5" y="471.3" font-size="11" textLength="25.5" lengthAdjust="spacingAndGlyphs" fill="#222" stroke="#222" stroke-width="0.22">Closet</text>
<line x1="697.5" y1="474.3" x2="723.0" y2="474.3" stroke="#444" stroke-width="0.8"/>
<text x="690.8" y="503.0" font-size="11" textLength="31.7" lengthAdjust="spacingAndGlyphs" fill="#222" stroke="#222" stroke-width="0.22">Powder</text>
<line x1="690.8" y1="506.0" x2="722.5" y2="506.0" stroke="#444" stroke-width="0.8"/>
<text x="694.7" y="513.8" font-size="11" textLength="24.8" lengthAdjust="spacingAndGlyphs" fill="#222" stroke="#222" stroke-width="0.22">Room</text>
<line x1="694.7" y1="516.8" x2="719.5" y2="516.8" stroke="#444" stroke-width="0.8"/>
<text x="880.0" y="463.7" font-size="11" textLength="70.0" lengthAdjust="spacingAndGlyphs" fill="#222" stroke="#222" stroke-width="0.22">Master Bedroom</text>
<line x1="880.0" y1="466.7" x2="950.0" y2="466.7" stroke="#444" stroke-width="0.8"/>
<text x="894.2" y="475.8" font-size="8.2" textLength="40.8" lengthAdjust="spacingAndGlyphs" fill="#222" stroke="#222" stroke-width="0.22">19'-6" x 15'-5"</text>
<text x="785.8" y="509.2" font-size="11" textLength="34.2" lengthAdjust="spacingAndGlyphs" fill="#222" stroke="#222" stroke-width="0.22">M. Clos.</text>
<line x1="785.8" y1="512.2" x2="820.0" y2="512.2" stroke="#444" stroke-width="0.8"/>
<text x="780.8" y="521.3" font-size="8.2" textLength="44.2" lengthAdjust="spacingAndGlyphs" fill="#222" stroke="#222" stroke-width="0.22">5'-4± x 9'-7"±</text>
<text x="755.5" y="580.5" font-size="11" textLength="33.7" lengthAdjust="spacingAndGlyphs" fill="#222" stroke="#222" stroke-width="0.22">Laundry</text>
<line x1="755.5" y1="583.5" x2="789.2" y2="583.5" stroke="#444" stroke-width="0.8"/>
<text x="747.5" y="592.5" font-size="8.2" textLength="50.0" lengthAdjust="spacingAndGlyphs" fill="#222" stroke="#222" stroke-width="0.22">6'-5"± x 12'-6"±</text>
<text x="813.3" y="588.8" font-size="11" textLength="33.4" lengthAdjust="spacingAndGlyphs" fill="#222" stroke="#222" stroke-width="0.22">M. Clos.</text>
<line x1="813.3" y1="591.8" x2="846.7" y2="591.8" stroke="#444" stroke-width="0.8"/>
<text x="811.3" y="600.8" font-size="8.2" textLength="37.4" lengthAdjust="spacingAndGlyphs" fill="#222" stroke="#222" stroke-width="0.22">6'-0" x 11'-3"</text>
<text x="898.3" y="597.2" font-size="11" textLength="49.7" lengthAdjust="spacingAndGlyphs" fill="#222" stroke="#222" stroke-width="0.22">Master Bath</text>
<line x1="898.3" y1="600.2" x2="948.0" y2="600.2" stroke="#444" stroke-width="0.8"/>
<text x="653.3" y="667.5" font-size="11" textLength="22.0" lengthAdjust="spacingAndGlyphs" fill="#222" stroke="#222" stroke-width="0.22">Entry</text>
<line x1="653.3" y1="670.5" x2="675.3" y2="670.5" stroke="#444" stroke-width="0.8"/>
<text x="775.2" y="679.2" font-size="11" textLength="18.3" lengthAdjust="spacingAndGlyphs" fill="#222" stroke="#222" stroke-width="0.22">Bath</text>
<line x1="775.2" y1="682.2" x2="793.5" y2="682.2" stroke="#444" stroke-width="0.8"/>
<text x="880.5" y="715.0" font-size="11" textLength="52.0" lengthAdjust="spacingAndGlyphs" fill="#222" stroke="#222" stroke-width="0.22">Bedroom #2</text>
<line x1="880.5" y1="718.0" x2="932.5" y2="718.0" stroke="#444" stroke-width="0.8"/>
<text x="880.0" y="727.5" font-size="8.2" textLength="52.5" lengthAdjust="spacingAndGlyphs" fill="#222" stroke="#222" stroke-width="0.22">19'-7"± x 14'-2"±</text>
<text x="654.2" y="724.7" font-size="11" textLength="20.0" lengthAdjust="spacingAndGlyphs" fill="#222" stroke="#222" stroke-width="0.22">Clos.</text>
<line x1="654.2" y1="727.7" x2="674.2" y2="727.7" stroke="#444" stroke-width="0.8"/>
<text x="683.8" y="720.0" font-size="11" textLength="15.4" lengthAdjust="spacingAndGlyphs" fill="#222" stroke="#222" stroke-width="0.22">A/C</text>
<line x1="683.8" y1="723.0" x2="699.2" y2="723.0" stroke="#444" stroke-width="0.8"/>
<text x="827.0" y="745.0" font-size="11" textLength="20.0" lengthAdjust="spacingAndGlyphs" fill="#222" stroke="#222" stroke-width="0.22">Clos.</text>
<line x1="827.0" y1="748.0" x2="847.0" y2="748.0" stroke="#444" stroke-width="0.8"/>
<text x="733.8" y="764.2" font-size="11" textLength="34.5" lengthAdjust="spacingAndGlyphs" fill="#222" stroke="#222" stroke-width="0.22">Owner's</text>
<line x1="733.8" y1="767.2" x2="768.3" y2="767.2" stroke="#444" stroke-width="0.8"/>
<text x="738.0" y="777.0" font-size="11" textLength="25.0" lengthAdjust="spacingAndGlyphs" fill="#222" stroke="#222" stroke-width="0.22">Closet</text>
<line x1="738.0" y1="780.0" x2="763.0" y2="780.0" stroke="#444" stroke-width="0.8"/>
<text x="783.8" y="764.2" font-size="11" textLength="19.9" lengthAdjust="spacingAndGlyphs" fill="#222" stroke="#222" stroke-width="0.22">Clos.</text>
<line x1="783.8" y1="767.2" x2="803.7" y2="767.2" stroke="#444" stroke-width="0.8"/>
<text x="676.7" y="790.3" font-size="11" textLength="18.3" lengthAdjust="spacingAndGlyphs" fill="#222" stroke="#222" stroke-width="0.22">Bath</text>
<line x1="676.7" y1="793.3" x2="695.0" y2="793.3" stroke="#444" stroke-width="0.8"/>
<text x="775.8" y="815.0" font-size="11" textLength="18.4" lengthAdjust="spacingAndGlyphs" fill="#222" stroke="#222" stroke-width="0.22">Bath</text>
<line x1="775.8" y1="818.0" x2="794.2" y2="818.0" stroke="#444" stroke-width="0.8"/>
<text x="861.7" y="828.7" font-size="11" textLength="52.0" lengthAdjust="spacingAndGlyphs" fill="#222" stroke="#222" stroke-width="0.22">Bedroom #3</text>
<line x1="861.7" y1="831.7" x2="913.7" y2="831.7" stroke="#444" stroke-width="0.8"/>
<text x="863.0" y="841.3" font-size="8.2" textLength="48.7" lengthAdjust="spacingAndGlyphs" fill="#222" stroke="#222" stroke-width="0.22">18'-1"± x 14'-10"</text>
<text x="751.7" y="919.2" font-size="11" textLength="18.3" lengthAdjust="spacingAndGlyphs" fill="#222" stroke="#222" stroke-width="0.22">Bath</text>
<line x1="751.7" y1="922.2" x2="770.0" y2="922.2" stroke="#444" stroke-width="0.8"/>
<text x="648.0" y="945.8" font-size="11" textLength="52.0" lengthAdjust="spacingAndGlyphs" fill="#222" stroke="#222" stroke-width="0.22">Bedroom #5</text>
<line x1="648.0" y1="948.8" x2="700.0" y2="948.8" stroke="#444" stroke-width="0.8"/>
<text x="648.0" y="958.0" font-size="8.2" textLength="52.0" lengthAdjust="spacingAndGlyphs" fill="#222" stroke="#222" stroke-width="0.22">14'-6"± x 18'-4"±</text>
<text x="810.0" y="955.5" font-size="11" textLength="52.5" lengthAdjust="spacingAndGlyphs" fill="#222" stroke="#222" stroke-width="0.22">Bedroom #4</text>
<line x1="810.0" y1="958.5" x2="862.5" y2="958.5" stroke="#444" stroke-width="0.8"/>
<text x="810.3" y="967.8" font-size="8.2" textLength="52.7" lengthAdjust="spacingAndGlyphs" fill="#222" stroke="#222" stroke-width="0.22">15'-0"± x 15'-2"±</text>
<text x="717.5" y="985.5" font-size="11" textLength="20.5" lengthAdjust="spacingAndGlyphs" fill="#222" stroke="#222" stroke-width="0.22">Clos.</text>
<line x1="717.5" y1="988.5" x2="738.0" y2="988.5" stroke="#444" stroke-width="0.8"/>
<text x="757.5" y="985.5" font-size="11" textLength="20.0" lengthAdjust="spacingAndGlyphs" fill="#222" stroke="#222" stroke-width="0.22">Clos.</text>
<line x1="757.5" y1="988.5" x2="777.5" y2="988.5" stroke="#444" stroke-width="0.8"/>
<text x="100.1" y="102.0" font-size="17.5" textLength="114.1" lengthAdjust="spacingAndGlyphs" stroke="#111" stroke-width="0.35">Unit Features:</text>
<line x1="100.0" y1="107.2" x2="214.3" y2="107.2" stroke="#888" stroke-width="1.4"/>
<text x="99.6" y="141.9" font-size="17.5" textLength="248.9" lengthAdjust="spacingAndGlyphs" stroke="#111" stroke-width="0.35">10'-0" Ceiling Height in Living,</text>
<circle cx="85.0" cy="136.3" r="4.5" fill="#111" stroke="none" stroke-width="0"/>
<text x="116.9" y="164.2" font-size="17.5" textLength="252.1" lengthAdjust="spacingAndGlyphs" stroke="#111" stroke-width="0.35">Dining, Kitchen and Bedrooms</text>
<text x="99.6" y="186.6" font-size="17.5" textLength="235.4" lengthAdjust="spacingAndGlyphs" stroke="#111" stroke-width="0.35">8'-0" Ceiling Height all other</text>
<circle cx="85.0" cy="181.0" r="4.5" fill="#111" stroke="none" stroke-width="0"/>
<text x="116.9" y="208.9" font-size="17.5" textLength="44.1" lengthAdjust="spacingAndGlyphs" stroke="#111" stroke-width="0.35">Areas</text>
<text x="99.6" y="231.3" font-size="17.5" textLength="265.0" lengthAdjust="spacingAndGlyphs" stroke="#111" stroke-width="0.35">Kitchen Appliances Include Two</text>
<circle cx="85.0" cy="225.7" r="4.5" fill="#111" stroke="none" stroke-width="0"/>
<text x="116.9" y="253.6" font-size="17.5" textLength="281.1" lengthAdjust="spacingAndGlyphs" stroke="#111" stroke-width="0.35">Dishwashers, Refrigerator/Freezer,</text>
<text x="116.9" y="276.0" font-size="17.5" textLength="255.0" lengthAdjust="spacingAndGlyphs" stroke="#111" stroke-width="0.35">Gas Range, Microwave / Oven</text>
<text x="99.6" y="298.3" font-size="17.5" textLength="234.4" lengthAdjust="spacingAndGlyphs" stroke="#111" stroke-width="0.35">Granite, Quartz or Porcelain</text>
<circle cx="85.0" cy="292.7" r="4.5" fill="#111" stroke="none" stroke-width="0"/>
<text x="116.9" y="320.7" font-size="17.5" textLength="101.9" lengthAdjust="spacingAndGlyphs" stroke="#111" stroke-width="0.35">Countertops</text>
<text x="99.6" y="343.0" font-size="17.5" textLength="215.6" lengthAdjust="spacingAndGlyphs" stroke="#111" stroke-width="0.35">Luxury Vinyl Tile Flooring</text>
<circle cx="85.0" cy="337.4" r="4.5" fill="#111" stroke="none" stroke-width="0"/>
<text x="99.6" y="365.4" font-size="17.5" textLength="262.4" lengthAdjust="spacingAndGlyphs" stroke="#111" stroke-width="0.35">Liquid Applied Decorative Deck</text>
<circle cx="85.0" cy="359.8" r="4.5" fill="#111" stroke="none" stroke-width="0"/>
<text x="116.9" y="387.7" font-size="17.5" textLength="173.7" lengthAdjust="spacingAndGlyphs" stroke="#111" stroke-width="0.35">Coating on Balconies</text>
<text x="99.6" y="410.0" font-size="17.5" textLength="235.8" lengthAdjust="spacingAndGlyphs" stroke="#111" stroke-width="0.35">Wet Bar with Sink, Beverage</text>
<circle cx="85.0" cy="404.4" r="4.5" fill="#111" stroke="none" stroke-width="0"/>
<text x="116.9" y="432.4" font-size="17.5" textLength="178.1" lengthAdjust="spacingAndGlyphs" stroke="#111" stroke-width="0.35">Center and Ice Maker</text>
<text x="99.6" y="454.7" font-size="17.5" textLength="210.4" lengthAdjust="spacingAndGlyphs" stroke="#111" stroke-width="0.35">Fire Place in Living Room</text>
<circle cx="85.0" cy="449.1" r="4.5" fill="#111" stroke="none" stroke-width="0"/>
<text x="99.6" y="477.1" font-size="17.5" textLength="246.2" lengthAdjust="spacingAndGlyphs" stroke="#111" stroke-width="0.35">District Water Heating System</text>
<circle cx="85.0" cy="471.5" r="4.5" fill="#111" stroke="none" stroke-width="0"/>
<text x="99.6" y="499.4" font-size="17.5" textLength="217.7" lengthAdjust="spacingAndGlyphs" stroke="#111" stroke-width="0.35">Master Bath with Separate</text>
<circle cx="85.0" cy="493.8" r="4.5" fill="#111" stroke="none" stroke-width="0"/>
<text x="116.9" y="521.8" font-size="17.5" textLength="253.5" lengthAdjust="spacingAndGlyphs" stroke="#111" stroke-width="0.35">Shower and Free-Standing Tub</text>
<text x="116.9" y="544.1" font-size="17.5" textLength="162.9" lengthAdjust="spacingAndGlyphs" stroke="#111" stroke-width="0.35">with Walk-In Closet</text>
<text x="99.6" y="566.5" font-size="17.5" textLength="298.9" lengthAdjust="spacingAndGlyphs" stroke="#111" stroke-width="0.35">Large Laundry Room with Soak Sink</text>
<circle cx="85.0" cy="560.9" r="4.5" fill="#111" stroke="none" stroke-width="0"/>
<text x="99.6" y="588.8" font-size="17.5" textLength="209.4" lengthAdjust="spacingAndGlyphs" stroke="#111" stroke-width="0.35">High End Washer / Dryer</text>
<circle cx="85.0" cy="583.2" r="4.5" fill="#111" stroke="none" stroke-width="0"/>
<text x="99.6" y="611.1" font-size="17.5" textLength="244.8" lengthAdjust="spacingAndGlyphs" stroke="#111" stroke-width="0.35">Solid Core Doors Throughout</text>
<circle cx="85.0" cy="605.5" r="4.5" fill="#111" stroke="none" stroke-width="0"/>
<text x="99.6" y="633.5" font-size="17.5" textLength="169.4" lengthAdjust="spacingAndGlyphs" stroke="#111" stroke-width="0.35">Hot Tub on Balcony</text>
<circle cx="85.0" cy="627.9" r="4.5" fill="#111" stroke="none" stroke-width="0"/>
<text x="99.6" y="655.8" font-size="17.5" textLength="169.4" lengthAdjust="spacingAndGlyphs" stroke="#111" stroke-width="0.35">Gas Grill on Balcony</text>
<circle cx="85.0" cy="650.2" r="4.5" fill="#111" stroke="none" stroke-width="0"/>
<text x="99.6" y="678.2" font-size="17.5" textLength="251.4" lengthAdjust="spacingAndGlyphs" stroke="#111" stroke-width="0.35">Floor to Ceiling Window Wall</text>
<circle cx="85.0" cy="672.6" r="4.5" fill="#111" stroke="none" stroke-width="0"/>
<text x="116.9" y="700.5" font-size="17.5" textLength="280.6" lengthAdjust="spacingAndGlyphs" stroke="#111" stroke-width="0.35">in Living/Dining, Master Bedroom</text>
<text x="116.9" y="722.9" font-size="17.5" textLength="237.9" lengthAdjust="spacingAndGlyphs" stroke="#111" stroke-width="0.35">And all Secondary Bedrooms</text>
<text x="99.6" y="745.2" font-size="17.5" textLength="234.4" lengthAdjust="spacingAndGlyphs" stroke="#111" stroke-width="0.35">One Reserved Parking Space</text>
<circle cx="85.0" cy="739.6" r="4.5" fill="#111" stroke="none" stroke-width="0"/>
<text x="100.6" y="808.5" font-size="17.5" textLength="191.1" lengthAdjust="spacingAndGlyphs" stroke="#111" stroke-width="0.35">*Units 2905 and 3005:</text>
<text x="99.6" y="830.8" font-size="17.5" textLength="248.9" lengthAdjust="spacingAndGlyphs" stroke="#111" stroke-width="0.35">12'-0" Ceiling Height in Living,</text>
<circle cx="85.0" cy="825.2" r="4.5" fill="#111" stroke="none" stroke-width="0"/>
<text x="116.9" y="853.3" font-size="17.5" textLength="252.1" lengthAdjust="spacingAndGlyphs" stroke="#111" stroke-width="0.35">Dining, Kitchen and Bedrooms</text>
<text x="99.6" y="875.6" font-size="17.5" textLength="242.7" lengthAdjust="spacingAndGlyphs" stroke="#111" stroke-width="0.35">10'-0" Ceiling Height all other</text>
<circle cx="85.0" cy="870.0" r="4.5" fill="#111" stroke="none" stroke-width="0"/>
<text x="116.9" y="897.5" font-size="17.5" textLength="44.1" lengthAdjust="spacingAndGlyphs" stroke="#111" stroke-width="0.35">Areas</text>
<text x="99.6" y="939.8" font-size="17.5" textLength="249.4" lengthAdjust="spacingAndGlyphs" stroke="#111" stroke-width="0.35" xml:space="preserve">Note:  Furniture Not Included</text>
<text x="99.6" y="958.1" font-size="17.5" textLength="268.1" lengthAdjust="spacingAndGlyphs" stroke="#111" stroke-width="0.35">All Dimensions are Approximate</text>
<text x="1074.8" y="88.1" font-size="13.4" textLength="108.3" lengthAdjust="spacingAndGlyphs" stroke="#111" stroke-width="0.35">HATCH LEGEND</text>
<line x1="1074.5" y1="92.0" x2="1183.3" y2="92.0" stroke="#888" stroke-width="1.3"/>
<rect x="1074.6" y="116.3" width="81.0" height="60.7" fill="#fff" stroke="#888" stroke-width="1.3" rx="1"/>
<rect x="1076.6" y="118.3" width="77.0" height="56.7" fill="#e6e6e6" stroke="none" stroke-width="0"/>
<rect x="1074.6" y="197.6" width="81.0" height="60.4" fill="#fff" stroke="#888" stroke-width="1.2"/>
<rect x="1074.6" y="197.6" width="81.0" height="60.4" fill="url(#xhl)" stroke="none" stroke-width="0"/>
<rect x="1074.6" y="278.3" width="81.0" height="60.5" fill="#fff" stroke="#888" stroke-width="1.2"/>
<rect x="1074.6" y="278.3" width="81.0" height="60.5" fill="url(#dhl)" stroke="none" stroke-width="0"/>
<text x="1174.4" y="140.0" font-size="13.6" textLength="55.0" lengthAdjust="spacingAndGlyphs" stroke="#111" stroke-width="0.35">PRIVATE</text>
<text x="1174.4" y="157.5" font-size="13.6" textLength="61.2" lengthAdjust="spacingAndGlyphs" stroke="#111" stroke-width="0.35">ELEMENT</text>
<text x="1174.4" y="214.8" font-size="13.6" textLength="54.5" lengthAdjust="spacingAndGlyphs" stroke="#111" stroke-width="0.35">LIMITED</text>
<text x="1174.4" y="232.2" font-size="13.6" textLength="70.6" lengthAdjust="spacingAndGlyphs" stroke="#111" stroke-width="0.35">COMMON</text>
<text x="1174.4" y="249.0" font-size="13.6" textLength="61.2" lengthAdjust="spacingAndGlyphs" stroke="#111" stroke-width="0.35">ELEMENT</text>
<text x="1174.4" y="303.6" font-size="13.6" textLength="70.6" lengthAdjust="spacingAndGlyphs" stroke="#111" stroke-width="0.35">COMMON</text>
<text x="1174.4" y="320.5" font-size="13.6" textLength="61.2" lengthAdjust="spacingAndGlyphs" stroke="#111" stroke-width="0.35">ELEMENT</text>
<text x="1074.6" y="411.5" font-size="13.4" textLength="104.6" lengthAdjust="spacingAndGlyphs" stroke="#111" stroke-width="0.35">UNIT NUMBER:</text>
<line x1="1074.4" y1="415.6" x2="1179.4" y2="415.6" stroke="#888" stroke-width="1.3"/>
<text x="1074.6" y="445.2" font-size="13.4" textLength="62.9" lengthAdjust="spacingAndGlyphs" stroke="#111" stroke-width="0.35">UNIT 805</text>
<text x="1074.6" y="462.1" font-size="13.4" textLength="62.9" lengthAdjust="spacingAndGlyphs" stroke="#111" stroke-width="0.35">UNIT 905</text>
<text x="1074.6" y="478.9" font-size="13.4" textLength="69.2" lengthAdjust="spacingAndGlyphs" stroke="#111" stroke-width="0.35">UNIT 1005</text>
<text x="1074.6" y="495.8" font-size="13.4" textLength="66.5" lengthAdjust="spacingAndGlyphs" stroke="#111" stroke-width="0.35">UNIT 1105</text>
<text x="1074.6" y="512.7" font-size="13.4" textLength="69.2" lengthAdjust="spacingAndGlyphs" stroke="#111" stroke-width="0.35">UNIT 1205</text>
<text x="1074.6" y="529.6" font-size="13.4" textLength="69.2" lengthAdjust="spacingAndGlyphs" stroke="#111" stroke-width="0.35">UNIT 1305</text>
<text x="1074.6" y="546.5" font-size="13.4" textLength="69.2" lengthAdjust="spacingAndGlyphs" stroke="#111" stroke-width="0.35">UNIT 1405</text>
<text x="1074.6" y="563.3" font-size="13.4" textLength="69.2" lengthAdjust="spacingAndGlyphs" stroke="#111" stroke-width="0.35">UNIT 1505</text>
<text x="1074.6" y="580.2" font-size="13.4" textLength="69.2" lengthAdjust="spacingAndGlyphs" stroke="#111" stroke-width="0.35">UNIT 1605</text>
<text x="1074.6" y="597.1" font-size="13.4" textLength="69.2" lengthAdjust="spacingAndGlyphs" stroke="#111" stroke-width="0.35">UNIT 1705</text>
<text x="1074.6" y="614.0" font-size="13.4" textLength="69.2" lengthAdjust="spacingAndGlyphs" stroke="#111" stroke-width="0.35">UNIT 1805</text>
<text x="1074.6" y="630.8" font-size="13.4" textLength="69.2" lengthAdjust="spacingAndGlyphs" stroke="#111" stroke-width="0.35">UNIT 1905</text>
<text x="1074.6" y="647.7" font-size="13.4" textLength="71.6" lengthAdjust="spacingAndGlyphs" stroke="#111" stroke-width="0.35">UNIT 2005</text>
<text x="1074.6" y="664.6" font-size="13.4" textLength="71.6" lengthAdjust="spacingAndGlyphs" stroke="#111" stroke-width="0.35">UNIT 2105</text>
<text x="1074.6" y="681.5" font-size="13.4" textLength="71.6" lengthAdjust="spacingAndGlyphs" stroke="#111" stroke-width="0.35">UNIT 2205</text>
<text x="1074.6" y="698.3" font-size="13.4" textLength="71.6" lengthAdjust="spacingAndGlyphs" stroke="#111" stroke-width="0.35">UNIT 2305</text>
<text x="1074.6" y="715.2" font-size="13.4" textLength="71.6" lengthAdjust="spacingAndGlyphs" stroke="#111" stroke-width="0.35">UNIT 2405</text>
<text x="1074.6" y="732.1" font-size="13.4" textLength="71.6" lengthAdjust="spacingAndGlyphs" stroke="#111" stroke-width="0.35">UNIT 2505</text>
<text x="1074.6" y="749.0" font-size="13.4" textLength="71.6" lengthAdjust="spacingAndGlyphs" stroke="#111" stroke-width="0.35">UNIT 2605</text>
<text x="1074.6" y="765.8" font-size="13.4" textLength="71.6" lengthAdjust="spacingAndGlyphs" stroke="#111" stroke-width="0.35">UNIT 2705</text>
<text x="1074.6" y="782.7" font-size="13.4" textLength="71.6" lengthAdjust="spacingAndGlyphs" stroke="#111" stroke-width="0.35">UNIT 2805</text>
<text x="1074.6" y="799.6" font-size="13.4" textLength="79.2" lengthAdjust="spacingAndGlyphs" stroke="#111" stroke-width="0.35">UNIT 2905*</text>
<text x="1074.6" y="816.5" font-size="13.4" textLength="79.2" lengthAdjust="spacingAndGlyphs" stroke="#111" stroke-width="0.35">UNIT 3005*</text>
<line x1="1345.3" y1="728.0" x2="1345.3" y2="944.0" stroke="#cfcfcf" stroke-width="1.3"/>
<line x1="1328.0" y1="944.0" x2="1345.0" y2="944.0" stroke="#cfcfcf" stroke-width="1.0"/>
<circle cx="1345.3" cy="944.0" r="3.0" fill="#111" stroke="none" stroke-width="0"/>
<text x="1351.3" y="796.1" font-size="14.0" textLength="319.5" lengthAdjust="spacingAndGlyphs" stroke="#111" stroke-width="0.35">Unit Net Area (Private Element): 3,705 s.f.</text>
<text x="1351.3" y="820.5" font-size="14.0" textLength="142.9" lengthAdjust="spacingAndGlyphs" stroke="#111" stroke-width="0.35">Total Balcony Area</text>
<text x="1363.5" y="846.2" font-size="14.0" textLength="214.8" lengthAdjust="spacingAndGlyphs" stroke="#111" stroke-width="0.35">(Limited Common Element):</text>
<text x="1603.4" y="846.2" font-size="14.0" textLength="67.4" lengthAdjust="spacingAndGlyphs" stroke="#111" stroke-width="0.35">1,083 s.f.</text>
<text x="1351.3" y="870.5" font-size="14.0" textLength="83.1" lengthAdjust="spacingAndGlyphs" stroke="#111" stroke-width="0.35">Total Area:</text>
<text x="1601.0" y="870.5" font-size="14.0" textLength="69.8" lengthAdjust="spacingAndGlyphs" stroke="#111" stroke-width="0.35">4,786 s.f.</text>
<text x="1351.3" y="918.0" font-size="23.6" textLength="298.2" lengthAdjust="spacingAndGlyphs" stroke="#111" stroke-width="0.35">West End Unit Levels 8-30</text>
<rect x="1362.2" y="948.3" width="12.2" height="11.9" fill="#000" stroke="none" stroke-width="0"/>
<rect x="1386.8" y="948.3" width="12.2" height="11.9" fill="#000" stroke="none" stroke-width="0"/>
<rect x="1411.2" y="948.3" width="61.2" height="11.9" fill="#000" stroke="none" stroke-width="0"/>
<rect x="1350.0" y="960.0" width="12.2" height="12.3" fill="#000" stroke="none" stroke-width="0"/>
<rect x="1374.5" y="960.0" width="12.2" height="12.3" fill="#000" stroke="none" stroke-width="0"/>
<rect x="1399.0" y="960.0" width="12.2" height="12.3" fill="#000" stroke="none" stroke-width="0"/>
<rect x="1472.5" y="960.0" width="122.5" height="12.3" fill="#000" stroke="none" stroke-width="0"/>
<text x="1358.3" y="944.3" font-size="14.5" textLength="9.5" lengthAdjust="spacingAndGlyphs" fill="#666">1'</text>
<text x="1383.0" y="944.3" font-size="14.5" textLength="10.5" lengthAdjust="spacingAndGlyphs" fill="#666">3'</text>
<text x="1407.0" y="944.3" font-size="14.5" textLength="10.5" lengthAdjust="spacingAndGlyphs" fill="#666">5'</text>
<text x="1344.3" y="991.7" font-size="14.5" textLength="9.3" lengthAdjust="spacingAndGlyphs" fill="#666">0'</text>
<text x="1370.0" y="991.7" font-size="14.5" textLength="8.8" lengthAdjust="spacingAndGlyphs" fill="#666">2'</text>
<text x="1395.0" y="991.7" font-size="14.5" textLength="9.3" lengthAdjust="spacingAndGlyphs" fill="#666">4'</text>
<text x="1463.3" y="991.7" font-size="14.5" textLength="18.3" lengthAdjust="spacingAndGlyphs" fill="#666">10'</text>
<text x="1590.7" y="991.7" font-size="14.5" textLength="21.0" lengthAdjust="spacingAndGlyphs" fill="#666">20'</text>
<text x="1605.0" y="1026.7" font-size="24" textLength="66.0" lengthAdjust="spacingAndGlyphs" stroke="#111" stroke-width="0.3">CD-21</text>
<text x="1348.3" y="1041.7" font-size="19.5" textLength="155.7" lengthAdjust="spacingAndGlyphs" stroke="#111" stroke-width="0.3">"Need not be Built"</text>
<line x1="1327.3" y1="1050.0" x2="1682.7" y2="1050.0" stroke="#8a8a8a" stroke-width="1.3"/>
</svg>
</body></html>
